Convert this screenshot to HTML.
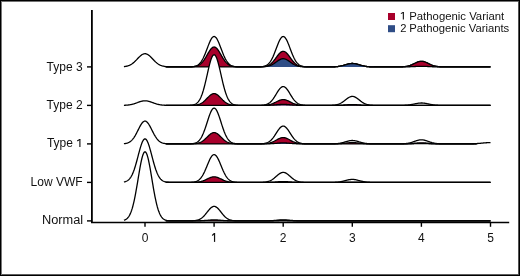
<!DOCTYPE html>
<html><head><meta charset="utf-8"><style>
html,body{margin:0;padding:0;background:#fff;}
body{width:520px;height:276px;overflow:hidden;position:relative;}
.b{position:absolute;}
svg{position:absolute;left:0;top:0;will-change:transform;}
text{font-family:"Liberation Sans",sans-serif;font-size:12px;fill:#111;}
.lg{font-size:11.2px;}
</style></head><body>
<svg width="520" height="276" viewBox="0 0 520 276">
<path d="M123.92 66.90L123.92 66.62L124.41 66.56L124.89 66.50L125.38 66.43L125.86 66.35L126.34 66.25L126.83 66.14L127.31 66.02L127.79 65.88L128.28 65.73L128.76 65.55L129.24 65.36L129.73 65.15L130.21 64.91L130.70 64.65L131.18 64.37L131.66 64.07L132.15 63.74L132.63 63.39L133.11 63.01L133.60 62.62L134.08 62.20L134.56 61.76L135.05 61.30L135.53 60.82L136.01 60.34L136.50 59.84L136.98 59.33L137.47 58.82L137.95 58.32L138.43 57.81L138.92 57.32L139.40 56.84L139.88 56.38L140.37 55.94L140.85 55.53L141.33 55.15L141.82 54.81L142.30 54.51L142.79 54.25L143.27 54.04L143.75 53.88L144.24 53.77L144.72 53.71L145.20 53.70L145.69 53.75L146.17 53.86L146.65 54.01L147.14 54.21L147.62 54.46L148.10 54.76L148.59 55.09L149.07 55.46L149.56 55.87L150.04 56.30L150.52 56.76L151.01 57.24L151.49 57.73L151.97 58.23L152.46 58.74L152.94 59.25L153.42 59.76L153.91 60.26L154.39 60.75L154.88 61.22L155.36 61.69L155.84 62.13L156.33 62.55L156.81 62.95L157.29 63.33L157.78 63.69L158.26 64.02L158.74 64.33L159.23 64.61L159.71 64.87L160.20 65.11L160.68 65.33L161.16 65.52L161.65 65.70L162.13 65.86L162.61 66.00L163.10 66.12L163.58 66.23L164.06 66.33L164.55 66.42L165.03 66.49L165.51 66.55L166.00 66.61L166.48 66.66L166.97 66.70L167.45 66.73L167.93 66.76L168.42 66.79L168.90 66.81L169.38 66.82L169.87 66.84L170.35 66.85L170.83 66.86L171.32 66.87L171.80 66.87L172.29 66.88L172.77 66.88L173.25 66.89L173.74 66.89L174.22 66.89L174.70 66.89L175.19 66.90L175.67 66.90L184.86 66.90L185.34 66.89L185.83 66.89L186.31 66.89L186.79 66.89L187.28 66.88L187.76 66.88L188.24 66.87L188.73 66.86L189.21 66.85L189.70 66.84L190.18 66.82L190.66 66.80L191.15 66.78L191.63 66.75L192.11 66.71L192.60 66.66L193.08 66.60L193.56 66.53L194.05 66.45L194.53 66.35L195.01 66.23L195.50 66.09L195.98 65.92L196.47 65.73L196.95 65.50L197.43 65.24L197.92 64.94L198.40 64.60L198.88 64.21L199.37 63.77L199.85 63.27L200.33 62.72L200.82 62.11L201.30 61.43L201.79 60.69L202.27 59.88L202.75 59.01L203.24 58.07L203.72 57.06L204.20 56.00L204.69 54.88L205.17 53.71L205.65 52.50L206.14 51.25L206.62 49.97L207.11 48.69L207.59 47.40L208.07 46.12L208.56 44.87L209.04 43.65L209.52 42.49L210.01 41.39L210.49 40.38L210.97 39.46L211.46 38.64L211.94 37.95L212.42 37.38L212.91 36.95L213.39 36.66L213.88 36.52L214.36 36.52L214.84 36.68L215.33 36.98L215.81 37.42L216.29 37.99L216.78 38.70L217.26 39.52L217.74 40.45L218.23 41.47L218.71 42.57L219.20 43.74L219.68 44.96L220.16 46.21L220.65 47.49L221.13 48.78L221.61 50.07L222.10 51.34L222.58 52.59L223.06 53.80L223.55 54.96L224.03 56.08L224.52 57.14L225.00 58.14L225.48 59.07L225.97 59.94L226.45 60.74L226.93 61.48L227.42 62.15L227.90 62.76L228.38 63.31L228.87 63.80L229.35 64.24L229.83 64.63L230.32 64.97L230.80 65.26L231.29 65.52L231.77 65.74L232.25 65.94L232.74 66.10L233.22 66.24L233.70 66.36L234.19 66.46L234.67 66.54L235.15 66.61L235.64 66.66L236.12 66.71L236.61 66.75L237.09 66.78L237.57 66.81L238.06 66.83L238.54 66.84L239.02 66.85L239.51 66.86L239.99 66.87L240.47 66.88L240.96 66.88L241.44 66.89L241.93 66.89L242.41 66.89L242.89 66.89L243.38 66.90L253.53 66.90L254.02 66.90L254.50 66.89L254.98 66.89L255.47 66.89L255.95 66.89L256.43 66.88L256.92 66.88L257.40 66.87L257.88 66.86L258.37 66.85L258.85 66.84L259.33 66.82L259.82 66.80L260.30 66.77L260.79 66.74L261.27 66.70L261.75 66.65L262.24 66.60L262.72 66.52L263.20 66.44L263.69 66.34L264.17 66.21L264.65 66.07L265.14 65.90L265.62 65.70L266.11 65.47L266.59 65.21L267.07 64.90L267.56 64.56L268.04 64.16L268.52 63.71L269.01 63.21L269.49 62.65L269.97 62.03L270.46 61.35L270.94 60.60L271.43 59.78L271.91 58.90L272.39 57.95L272.88 56.94L273.36 55.87L273.84 54.75L274.33 53.57L274.81 52.35L275.29 51.10L275.78 49.83L276.26 48.54L276.74 47.25L277.23 45.97L277.71 44.72L278.20 43.51L278.68 42.36L279.16 41.27L279.65 40.27L280.13 39.36L280.61 38.56L281.10 37.88L281.58 37.32L282.06 36.91L282.55 36.63L283.03 36.51L283.52 36.53L284.00 36.70L284.48 37.02L284.97 37.48L285.45 38.07L285.93 38.79L286.42 39.62L286.90 40.56L287.38 41.59L287.87 42.70L288.35 43.88L288.84 45.10L289.32 46.36L289.80 47.64L290.29 48.93L290.77 50.22L291.25 51.49L291.74 52.73L292.22 53.93L292.70 55.09L293.19 56.20L293.67 57.26L294.15 58.25L294.64 59.18L295.12 60.04L295.61 60.83L296.09 61.56L296.57 62.23L297.06 62.83L297.54 63.37L298.02 63.86L298.51 64.29L298.99 64.67L299.47 65.00L299.96 65.29L300.44 65.55L300.93 65.77L301.41 65.96L301.89 66.12L302.38 66.25L302.86 66.37L303.34 66.47L303.83 66.55L304.31 66.61L304.79 66.67L305.28 66.72L305.76 66.75L306.25 66.78L306.73 66.81L307.21 66.83L307.70 66.84L308.18 66.86L308.66 66.87L309.15 66.87L309.63 66.88L310.11 66.88L310.60 66.89L311.08 66.89L311.56 66.89L312.05 66.90L312.53 66.90L326.56 66.90L327.04 66.90L327.52 66.89L328.01 66.89L328.49 66.89L328.97 66.89L329.46 66.89L329.94 66.88L330.43 66.88L330.91 66.87L331.39 66.87L331.88 66.86L332.36 66.85L332.84 66.84L333.33 66.82L333.81 66.81L334.29 66.79L334.78 66.76L335.26 66.74L335.75 66.71L336.23 66.67L336.71 66.63L337.20 66.59L337.68 66.54L338.16 66.48L338.65 66.42L339.13 66.35L339.61 66.27L340.10 66.18L340.58 66.09L341.06 65.99L341.55 65.89L342.03 65.77L342.52 65.65L343.00 65.53L343.48 65.39L343.97 65.26L344.45 65.12L344.93 64.97L345.42 64.83L345.90 64.69L346.38 64.54L346.87 64.40L347.35 64.27L347.84 64.14L348.32 64.02L348.80 63.91L349.29 63.81L349.77 63.72L350.25 63.65L350.74 63.59L351.22 63.54L351.70 63.51L352.19 63.50L352.67 63.50L353.16 63.53L353.64 63.56L354.12 63.62L354.61 63.68L355.09 63.77L355.57 63.86L356.06 63.97L356.54 64.08L357.02 64.21L357.51 64.34L357.99 64.48L358.47 64.62L358.96 64.76L359.44 64.91L359.93 65.05L360.41 65.19L360.89 65.33L361.38 65.47L361.86 65.59L362.34 65.72L362.83 65.83L363.31 65.94L363.79 66.05L364.28 66.14L364.76 66.23L365.25 66.31L365.73 66.39L366.21 66.45L366.70 66.51L367.18 66.57L367.66 66.61L368.15 66.65L368.63 66.69L369.11 66.72L369.60 66.75L370.08 66.78L370.57 66.80L371.05 66.81L371.53 66.83L372.02 66.84L372.50 66.85L372.98 66.86L373.47 66.87L373.95 66.87L374.43 66.88L374.92 66.88L375.40 66.89L375.88 66.89L376.37 66.89L376.85 66.89L377.34 66.90L377.82 66.90L394.75 66.90L395.23 66.90L395.71 66.89L396.20 66.89L396.68 66.89L397.16 66.89L397.65 66.88L398.13 66.88L398.61 66.88L399.10 66.87L399.58 66.86L400.07 66.85L400.55 66.84L401.03 66.83L401.52 66.81L402.00 66.79L402.48 66.77L402.97 66.74L403.45 66.71L403.93 66.67L404.42 66.63L404.90 66.58L405.38 66.52L405.87 66.45L406.35 66.38L406.84 66.29L407.32 66.20L407.80 66.09L408.29 65.98L408.77 65.85L409.25 65.71L409.74 65.55L410.22 65.39L410.70 65.21L411.19 65.02L411.67 64.82L412.16 64.61L412.64 64.39L413.12 64.17L413.61 63.94L414.09 63.70L414.57 63.46L415.06 63.23L415.54 62.99L416.02 62.76L416.51 62.54L416.99 62.33L417.48 62.13L417.96 61.95L418.44 61.79L418.93 61.65L419.41 61.53L419.89 61.43L420.38 61.36L420.86 61.32L421.34 61.30L421.83 61.31L422.31 61.35L422.79 61.41L423.28 61.50L423.76 61.62L424.25 61.76L424.73 61.91L425.21 62.09L425.70 62.28L426.18 62.49L426.66 62.71L427.15 62.94L427.63 63.17L428.11 63.41L428.60 63.64L429.08 63.88L429.57 64.11L430.05 64.34L430.53 64.56L431.02 64.77L431.50 64.98L431.98 65.17L432.47 65.35L432.95 65.52L433.43 65.67L433.92 65.81L434.40 65.95L434.88 66.07L435.37 66.17L435.85 66.27L436.34 66.36L436.82 66.44L437.30 66.50L437.79 66.56L438.27 66.62L438.75 66.66L439.24 66.70L439.72 66.73L440.20 66.76L440.69 66.79L441.17 66.81L441.66 66.82L442.14 66.84L442.62 66.85L443.11 66.86L443.59 66.87L444.07 66.87L444.56 66.88L445.04 66.88L445.52 66.89L446.01 66.89L446.49 66.89L446.98 66.89L447.46 66.90L447.94 66.90L490.50 66.90L490.50 66.90Z" fill="#fff"/>
<path d="M123.92 66.62L124.41 66.56L124.89 66.50L125.38 66.43L125.86 66.35L126.34 66.25L126.83 66.14L127.31 66.02L127.79 65.88L128.28 65.73L128.76 65.55L129.24 65.36L129.73 65.15L130.21 64.91L130.70 64.65L131.18 64.37L131.66 64.07L132.15 63.74L132.63 63.39L133.11 63.01L133.60 62.62L134.08 62.20L134.56 61.76L135.05 61.30L135.53 60.82L136.01 60.34L136.50 59.84L136.98 59.33L137.47 58.82L137.95 58.32L138.43 57.81L138.92 57.32L139.40 56.84L139.88 56.38L140.37 55.94L140.85 55.53L141.33 55.15L141.82 54.81L142.30 54.51L142.79 54.25L143.27 54.04L143.75 53.88L144.24 53.77L144.72 53.71L145.20 53.70L145.69 53.75L146.17 53.86L146.65 54.01L147.14 54.21L147.62 54.46L148.10 54.76L148.59 55.09L149.07 55.46L149.56 55.87L150.04 56.30L150.52 56.76L151.01 57.24L151.49 57.73L151.97 58.23L152.46 58.74L152.94 59.25L153.42 59.76L153.91 60.26L154.39 60.75L154.88 61.22L155.36 61.69L155.84 62.13L156.33 62.55L156.81 62.95L157.29 63.33L157.78 63.69L158.26 64.02L158.74 64.33L159.23 64.61L159.71 64.87L160.20 65.11L160.68 65.33L161.16 65.52L161.65 65.70L162.13 65.86L162.61 66.00L163.10 66.12L163.58 66.23L164.06 66.33L164.55 66.42L165.03 66.49L165.51 66.55L166.00 66.61L166.48 66.66L166.97 66.70L167.45 66.73L167.93 66.76L168.42 66.79L168.90 66.81L169.38 66.82L169.87 66.84L170.35 66.85L170.83 66.86L171.32 66.87L171.80 66.87L172.29 66.88L172.77 66.88L173.25 66.89L173.74 66.89L174.22 66.89L174.70 66.89L175.19 66.90L175.67 66.90L184.86 66.90L185.34 66.89L185.83 66.89L186.31 66.89L186.79 66.89L187.28 66.88L187.76 66.88L188.24 66.87L188.73 66.86L189.21 66.85L189.70 66.84L190.18 66.82L190.66 66.80L191.15 66.78L191.63 66.75L192.11 66.71L192.60 66.66L193.08 66.60L193.56 66.53L194.05 66.45L194.53 66.35L195.01 66.23L195.50 66.09L195.98 65.92L196.47 65.73L196.95 65.50L197.43 65.24L197.92 64.94L198.40 64.60L198.88 64.21L199.37 63.77L199.85 63.27L200.33 62.72L200.82 62.11L201.30 61.43L201.79 60.69L202.27 59.88L202.75 59.01L203.24 58.07L203.72 57.06L204.20 56.00L204.69 54.88L205.17 53.71L205.65 52.50L206.14 51.25L206.62 49.97L207.11 48.69L207.59 47.40L208.07 46.12L208.56 44.87L209.04 43.65L209.52 42.49L210.01 41.39L210.49 40.38L210.97 39.46L211.46 38.64L211.94 37.95L212.42 37.38L212.91 36.95L213.39 36.66L213.88 36.52L214.36 36.52L214.84 36.68L215.33 36.98L215.81 37.42L216.29 37.99L216.78 38.70L217.26 39.52L217.74 40.45L218.23 41.47L218.71 42.57L219.20 43.74L219.68 44.96L220.16 46.21L220.65 47.49L221.13 48.78L221.61 50.07L222.10 51.34L222.58 52.59L223.06 53.80L223.55 54.96L224.03 56.08L224.52 57.14L225.00 58.14L225.48 59.07L225.97 59.94L226.45 60.74L226.93 61.48L227.42 62.15L227.90 62.76L228.38 63.31L228.87 63.80L229.35 64.24L229.83 64.63L230.32 64.97L230.80 65.26L231.29 65.52L231.77 65.74L232.25 65.94L232.74 66.10L233.22 66.24L233.70 66.36L234.19 66.46L234.67 66.54L235.15 66.61L235.64 66.66L236.12 66.71L236.61 66.75L237.09 66.78L237.57 66.81L238.06 66.83L238.54 66.84L239.02 66.85L239.51 66.86L239.99 66.87L240.47 66.88L240.96 66.88L241.44 66.89L241.93 66.89L242.41 66.89L242.89 66.89L243.38 66.90L253.53 66.90L254.02 66.90L254.50 66.89L254.98 66.89L255.47 66.89L255.95 66.89L256.43 66.88L256.92 66.88L257.40 66.87L257.88 66.86L258.37 66.85L258.85 66.84L259.33 66.82L259.82 66.80L260.30 66.77L260.79 66.74L261.27 66.70L261.75 66.65L262.24 66.60L262.72 66.52L263.20 66.44L263.69 66.34L264.17 66.21L264.65 66.07L265.14 65.90L265.62 65.70L266.11 65.47L266.59 65.21L267.07 64.90L267.56 64.56L268.04 64.16L268.52 63.71L269.01 63.21L269.49 62.65L269.97 62.03L270.46 61.35L270.94 60.60L271.43 59.78L271.91 58.90L272.39 57.95L272.88 56.94L273.36 55.87L273.84 54.75L274.33 53.57L274.81 52.35L275.29 51.10L275.78 49.83L276.26 48.54L276.74 47.25L277.23 45.97L277.71 44.72L278.20 43.51L278.68 42.36L279.16 41.27L279.65 40.27L280.13 39.36L280.61 38.56L281.10 37.88L281.58 37.32L282.06 36.91L282.55 36.63L283.03 36.51L283.52 36.53L284.00 36.70L284.48 37.02L284.97 37.48L285.45 38.07L285.93 38.79L286.42 39.62L286.90 40.56L287.38 41.59L287.87 42.70L288.35 43.88L288.84 45.10L289.32 46.36L289.80 47.64L290.29 48.93L290.77 50.22L291.25 51.49L291.74 52.73L292.22 53.93L292.70 55.09L293.19 56.20L293.67 57.26L294.15 58.25L294.64 59.18L295.12 60.04L295.61 60.83L296.09 61.56L296.57 62.23L297.06 62.83L297.54 63.37L298.02 63.86L298.51 64.29L298.99 64.67L299.47 65.00L299.96 65.29L300.44 65.55L300.93 65.77L301.41 65.96L301.89 66.12L302.38 66.25L302.86 66.37L303.34 66.47L303.83 66.55L304.31 66.61L304.79 66.67L305.28 66.72L305.76 66.75L306.25 66.78L306.73 66.81L307.21 66.83L307.70 66.84L308.18 66.86L308.66 66.87L309.15 66.87L309.63 66.88L310.11 66.88L310.60 66.89L311.08 66.89L311.56 66.89L312.05 66.90L312.53 66.90L326.56 66.90L327.04 66.90L327.52 66.89L328.01 66.89L328.49 66.89L328.97 66.89L329.46 66.89L329.94 66.88L330.43 66.88L330.91 66.87L331.39 66.87L331.88 66.86L332.36 66.85L332.84 66.84L333.33 66.82L333.81 66.81L334.29 66.79L334.78 66.76L335.26 66.74L335.75 66.71L336.23 66.67L336.71 66.63L337.20 66.59L337.68 66.54L338.16 66.48L338.65 66.42L339.13 66.35L339.61 66.27L340.10 66.18L340.58 66.09L341.06 65.99L341.55 65.89L342.03 65.77L342.52 65.65L343.00 65.53L343.48 65.39L343.97 65.26L344.45 65.12L344.93 64.97L345.42 64.83L345.90 64.69L346.38 64.54L346.87 64.40L347.35 64.27L347.84 64.14L348.32 64.02L348.80 63.91L349.29 63.81L349.77 63.72L350.25 63.65L350.74 63.59L351.22 63.54L351.70 63.51L352.19 63.50L352.67 63.50L353.16 63.53L353.64 63.56L354.12 63.62L354.61 63.68L355.09 63.77L355.57 63.86L356.06 63.97L356.54 64.08L357.02 64.21L357.51 64.34L357.99 64.48L358.47 64.62L358.96 64.76L359.44 64.91L359.93 65.05L360.41 65.19L360.89 65.33L361.38 65.47L361.86 65.59L362.34 65.72L362.83 65.83L363.31 65.94L363.79 66.05L364.28 66.14L364.76 66.23L365.25 66.31L365.73 66.39L366.21 66.45L366.70 66.51L367.18 66.57L367.66 66.61L368.15 66.65L368.63 66.69L369.11 66.72L369.60 66.75L370.08 66.78L370.57 66.80L371.05 66.81L371.53 66.83L372.02 66.84L372.50 66.85L372.98 66.86L373.47 66.87L373.95 66.87L374.43 66.88L374.92 66.88L375.40 66.89L375.88 66.89L376.37 66.89L376.85 66.89L377.34 66.90L377.82 66.90L394.75 66.90L395.23 66.90L395.71 66.89L396.20 66.89L396.68 66.89L397.16 66.89L397.65 66.88L398.13 66.88L398.61 66.88L399.10 66.87L399.58 66.86L400.07 66.85L400.55 66.84L401.03 66.83L401.52 66.81L402.00 66.79L402.48 66.77L402.97 66.74L403.45 66.71L403.93 66.67L404.42 66.63L404.90 66.58L405.38 66.52L405.87 66.45L406.35 66.38L406.84 66.29L407.32 66.20L407.80 66.09L408.29 65.98L408.77 65.85L409.25 65.71L409.74 65.55L410.22 65.39L410.70 65.21L411.19 65.02L411.67 64.82L412.16 64.61L412.64 64.39L413.12 64.17L413.61 63.94L414.09 63.70L414.57 63.46L415.06 63.23L415.54 62.99L416.02 62.76L416.51 62.54L416.99 62.33L417.48 62.13L417.96 61.95L418.44 61.79L418.93 61.65L419.41 61.53L419.89 61.43L420.38 61.36L420.86 61.32L421.34 61.30L421.83 61.31L422.31 61.35L422.79 61.41L423.28 61.50L423.76 61.62L424.25 61.76L424.73 61.91L425.21 62.09L425.70 62.28L426.18 62.49L426.66 62.71L427.15 62.94L427.63 63.17L428.11 63.41L428.60 63.64L429.08 63.88L429.57 64.11L430.05 64.34L430.53 64.56L431.02 64.77L431.50 64.98L431.98 65.17L432.47 65.35L432.95 65.52L433.43 65.67L433.92 65.81L434.40 65.95L434.88 66.07L435.37 66.17L435.85 66.27L436.34 66.36L436.82 66.44L437.30 66.50L437.79 66.56L438.27 66.62L438.75 66.66L439.24 66.70L439.72 66.73L440.20 66.76L440.69 66.79L441.17 66.81L441.66 66.82L442.14 66.84L442.62 66.85L443.11 66.86L443.59 66.87L444.07 66.87L444.56 66.88L445.04 66.88L445.52 66.89L446.01 66.89L446.49 66.89L446.98 66.89L447.46 66.90L447.94 66.90L490.50 66.90" fill="none" stroke="#000" stroke-width="1.30" stroke-linejoin="round"/>
<path d="M165.73 66.90L165.73 66.90L185.57 66.90L186.06 66.89L186.54 66.89L187.03 66.89L187.51 66.89L187.99 66.88L188.48 66.88L188.96 66.87L189.45 66.87L189.93 66.86L190.41 66.84L190.90 66.83L191.38 66.81L191.87 66.79L192.35 66.76L192.83 66.73L193.32 66.68L193.80 66.63L194.29 66.57L194.77 66.50L195.25 66.42L195.74 66.32L196.22 66.20L196.71 66.06L197.19 65.90L197.67 65.72L198.16 65.51L198.64 65.27L199.13 65.00L199.61 64.69L200.09 64.35L200.58 63.97L201.06 63.54L201.55 63.08L202.03 62.57L202.51 62.02L203.00 61.42L203.48 60.79L203.97 60.11L204.45 59.39L204.93 58.64L205.42 57.86L205.90 57.05L206.39 56.23L206.87 55.39L207.35 54.54L207.84 53.70L208.32 52.87L208.81 52.06L209.29 51.28L209.77 50.54L210.26 49.85L210.74 49.22L211.23 48.65L211.71 48.15L212.19 47.74L212.68 47.42L213.16 47.18L213.65 47.04L214.13 47.00L214.61 47.06L215.10 47.21L215.58 47.45L216.07 47.79L216.55 48.21L217.03 48.72L217.52 49.29L218.00 49.93L218.49 50.63L218.97 51.38L219.45 52.16L219.94 52.97L220.42 53.81L220.91 54.65L221.39 55.49L221.88 56.33L222.36 57.16L222.84 57.96L223.33 58.74L223.81 59.49L224.30 60.20L224.78 60.87L225.26 61.50L225.75 62.09L226.23 62.64L226.72 63.14L227.20 63.60L227.68 64.02L228.17 64.39L228.65 64.73L229.14 65.03L229.62 65.30L230.10 65.54L230.59 65.74L231.07 65.93L231.56 66.08L232.04 66.22L232.52 66.33L233.01 66.43L233.49 66.51L233.98 66.58L234.46 66.64L234.94 66.69L235.43 66.73L235.91 66.76L236.40 66.79L236.88 66.81L237.36 66.83L237.85 66.85L238.33 66.86L238.82 66.87L239.30 66.87L239.78 66.88L240.27 66.88L240.75 66.89L241.24 66.89L241.72 66.89L242.20 66.89L242.69 66.90L254.79 66.90L255.27 66.90L255.76 66.89L256.24 66.89L256.72 66.89L257.21 66.89L257.69 66.88L258.18 66.88L258.66 66.87L259.14 66.86L259.63 66.85L260.11 66.84L260.60 66.83L261.08 66.81L261.56 66.78L262.05 66.76L262.53 66.72L263.02 66.68L263.50 66.63L263.98 66.57L264.47 66.50L264.95 66.42L265.44 66.33L265.92 66.22L266.40 66.09L266.89 65.94L267.37 65.77L267.86 65.57L268.34 65.36L268.82 65.11L269.31 64.83L269.79 64.53L270.28 64.19L270.76 63.81L271.24 63.41L271.73 62.97L272.21 62.49L272.70 61.99L273.18 61.45L273.66 60.88L274.15 60.29L274.63 59.67L275.12 59.03L275.60 58.38L276.08 57.72L276.57 57.06L277.05 56.40L277.54 55.75L278.02 55.12L278.50 54.52L278.99 53.94L279.47 53.41L279.96 52.93L280.44 52.50L280.92 52.12L281.41 51.82L281.89 51.58L282.38 51.41L282.86 51.32L283.34 51.30L283.83 51.36L284.31 51.50L284.80 51.71L285.28 51.99L285.76 52.34L286.25 52.75L286.73 53.21L287.22 53.72L287.70 54.28L288.18 54.87L288.67 55.49L289.15 56.14L289.64 56.79L290.12 57.45L290.60 58.11L291.09 58.77L291.57 59.41L292.06 60.04L292.54 60.64L293.02 61.22L293.51 61.77L293.99 62.29L294.48 62.78L294.96 63.23L295.44 63.65L295.93 64.04L296.41 64.39L296.90 64.71L297.38 65.00L297.86 65.26L298.35 65.49L298.83 65.69L299.32 65.87L299.80 66.03L300.28 66.17L300.77 66.28L301.25 66.39L301.74 66.47L302.22 66.55L302.70 66.61L303.19 66.66L303.67 66.71L304.16 66.74L304.64 66.77L305.12 66.80L305.61 66.82L306.09 66.84L306.58 66.85L307.06 66.86L307.54 66.87L308.03 66.88L308.51 66.88L309.00 66.89L309.48 66.89L309.96 66.89L310.45 66.89L310.93 66.90L311.42 66.90L326.90 66.90L327.39 66.89L327.87 66.89L328.36 66.89L328.84 66.89L329.33 66.89L329.81 66.88L330.29 66.88L330.78 66.87L331.26 66.87L331.75 66.86L332.23 66.85L332.71 66.84L333.20 66.83L333.68 66.81L334.17 66.79L334.65 66.77L335.13 66.74L335.62 66.72L336.10 66.68L336.59 66.64L337.07 66.60L337.55 66.55L338.04 66.50L338.52 66.43L339.01 66.37L339.49 66.29L339.97 66.21L340.46 66.12L340.94 66.02L341.43 65.91L341.91 65.80L342.39 65.68L342.88 65.56L343.36 65.43L343.85 65.29L344.33 65.15L344.81 65.01L345.30 64.87L345.78 64.72L346.27 64.58L346.75 64.44L347.23 64.30L347.72 64.17L348.20 64.05L348.69 63.93L349.17 63.83L349.65 63.74L350.14 63.66L350.62 63.60L351.11 63.55L351.59 63.52L352.07 63.50L352.56 63.50L353.04 63.52L353.53 63.55L354.01 63.60L354.49 63.67L354.98 63.75L355.46 63.84L355.95 63.94L356.43 64.06L356.91 64.18L357.40 64.31L357.88 64.45L358.37 64.59L358.85 64.73L359.33 64.87L359.82 65.02L360.30 65.16L360.79 65.30L361.27 65.44L361.75 65.57L362.24 65.69L362.72 65.81L363.21 65.92L363.69 66.03L364.17 66.12L364.66 66.21L365.14 66.30L365.63 66.37L366.11 66.44L366.59 66.50L367.08 66.55L367.56 66.60L368.05 66.65L368.53 66.68L369.01 66.72L369.50 66.75L369.98 66.77L370.47 66.79L370.95 66.81L371.43 66.83L371.92 66.84L372.40 66.85L372.89 66.86L373.37 66.87L373.85 66.87L374.34 66.88L374.82 66.88L375.31 66.89L375.79 66.89L376.27 66.89L376.76 66.89L377.24 66.89L377.73 66.90L394.67 66.90L395.15 66.90L395.63 66.89L396.12 66.89L396.60 66.89L397.09 66.89L397.57 66.89L398.05 66.88L398.54 66.88L399.02 66.87L399.51 66.86L399.99 66.85L400.47 66.84L400.96 66.83L401.44 66.81L401.93 66.79L402.41 66.77L402.89 66.74L403.38 66.71L403.86 66.68L404.35 66.63L404.83 66.58L405.31 66.53L405.80 66.46L406.28 66.39L406.77 66.31L407.25 66.21L407.73 66.11L408.22 65.99L408.70 65.86L409.19 65.73L409.67 65.57L410.15 65.41L410.64 65.23L411.12 65.05L411.61 64.85L412.09 64.64L412.57 64.42L413.06 64.20L413.54 63.97L414.03 63.73L414.51 63.49L414.99 63.26L415.48 63.02L415.96 62.79L416.45 62.57L416.93 62.36L417.41 62.16L417.90 61.97L418.38 61.81L418.87 61.66L419.35 61.54L419.83 61.44L420.32 61.37L420.80 61.32L421.29 61.30L421.77 61.31L422.25 61.34L422.74 61.40L423.22 61.49L423.71 61.60L424.19 61.74L424.67 61.89L425.16 62.07L425.64 62.26L426.13 62.47L426.61 62.69L427.09 62.91L427.58 63.15L428.06 63.38L428.55 63.62L429.03 63.86L429.51 64.09L430.00 64.32L430.48 64.54L430.97 64.75L431.45 64.96L431.93 65.15L432.42 65.33L432.90 65.50L433.39 65.66L433.87 65.80L434.35 65.93L434.84 66.06L435.32 66.16L435.81 66.26L436.29 66.35L436.78 66.43L437.26 66.50L437.74 66.56L438.23 66.61L438.71 66.66L439.20 66.70L439.68 66.73L440.16 66.76L440.65 66.78L441.13 66.81L441.62 66.82L442.10 66.84L442.58 66.85L443.07 66.86L443.55 66.87L444.04 66.87L444.52 66.88L445.00 66.88L445.49 66.89L445.97 66.89L446.46 66.89L446.94 66.89L447.42 66.90L447.91 66.90L490.50 66.90L490.50 66.90Z" fill="#A8002B"/>
<path d="M165.73 66.90L185.57 66.90L186.06 66.89L186.54 66.89L187.03 66.89L187.51 66.89L187.99 66.88L188.48 66.88L188.96 66.87L189.45 66.87L189.93 66.86L190.41 66.84L190.90 66.83L191.38 66.81L191.87 66.79L192.35 66.76L192.83 66.73L193.32 66.68L193.80 66.63L194.29 66.57L194.77 66.50L195.25 66.42L195.74 66.32L196.22 66.20L196.71 66.06L197.19 65.90L197.67 65.72L198.16 65.51L198.64 65.27L199.13 65.00L199.61 64.69L200.09 64.35L200.58 63.97L201.06 63.54L201.55 63.08L202.03 62.57L202.51 62.02L203.00 61.42L203.48 60.79L203.97 60.11L204.45 59.39L204.93 58.64L205.42 57.86L205.90 57.05L206.39 56.23L206.87 55.39L207.35 54.54L207.84 53.70L208.32 52.87L208.81 52.06L209.29 51.28L209.77 50.54L210.26 49.85L210.74 49.22L211.23 48.65L211.71 48.15L212.19 47.74L212.68 47.42L213.16 47.18L213.65 47.04L214.13 47.00L214.61 47.06L215.10 47.21L215.58 47.45L216.07 47.79L216.55 48.21L217.03 48.72L217.52 49.29L218.00 49.93L218.49 50.63L218.97 51.38L219.45 52.16L219.94 52.97L220.42 53.81L220.91 54.65L221.39 55.49L221.88 56.33L222.36 57.16L222.84 57.96L223.33 58.74L223.81 59.49L224.30 60.20L224.78 60.87L225.26 61.50L225.75 62.09L226.23 62.64L226.72 63.14L227.20 63.60L227.68 64.02L228.17 64.39L228.65 64.73L229.14 65.03L229.62 65.30L230.10 65.54L230.59 65.74L231.07 65.93L231.56 66.08L232.04 66.22L232.52 66.33L233.01 66.43L233.49 66.51L233.98 66.58L234.46 66.64L234.94 66.69L235.43 66.73L235.91 66.76L236.40 66.79L236.88 66.81L237.36 66.83L237.85 66.85L238.33 66.86L238.82 66.87L239.30 66.87L239.78 66.88L240.27 66.88L240.75 66.89L241.24 66.89L241.72 66.89L242.20 66.89L242.69 66.90L254.79 66.90L255.27 66.90L255.76 66.89L256.24 66.89L256.72 66.89L257.21 66.89L257.69 66.88L258.18 66.88L258.66 66.87L259.14 66.86L259.63 66.85L260.11 66.84L260.60 66.83L261.08 66.81L261.56 66.78L262.05 66.76L262.53 66.72L263.02 66.68L263.50 66.63L263.98 66.57L264.47 66.50L264.95 66.42L265.44 66.33L265.92 66.22L266.40 66.09L266.89 65.94L267.37 65.77L267.86 65.57L268.34 65.36L268.82 65.11L269.31 64.83L269.79 64.53L270.28 64.19L270.76 63.81L271.24 63.41L271.73 62.97L272.21 62.49L272.70 61.99L273.18 61.45L273.66 60.88L274.15 60.29L274.63 59.67L275.12 59.03L275.60 58.38L276.08 57.72L276.57 57.06L277.05 56.40L277.54 55.75L278.02 55.12L278.50 54.52L278.99 53.94L279.47 53.41L279.96 52.93L280.44 52.50L280.92 52.12L281.41 51.82L281.89 51.58L282.38 51.41L282.86 51.32L283.34 51.30L283.83 51.36L284.31 51.50L284.80 51.71L285.28 51.99L285.76 52.34L286.25 52.75L286.73 53.21L287.22 53.72L287.70 54.28L288.18 54.87L288.67 55.49L289.15 56.14L289.64 56.79L290.12 57.45L290.60 58.11L291.09 58.77L291.57 59.41L292.06 60.04L292.54 60.64L293.02 61.22L293.51 61.77L293.99 62.29L294.48 62.78L294.96 63.23L295.44 63.65L295.93 64.04L296.41 64.39L296.90 64.71L297.38 65.00L297.86 65.26L298.35 65.49L298.83 65.69L299.32 65.87L299.80 66.03L300.28 66.17L300.77 66.28L301.25 66.39L301.74 66.47L302.22 66.55L302.70 66.61L303.19 66.66L303.67 66.71L304.16 66.74L304.64 66.77L305.12 66.80L305.61 66.82L306.09 66.84L306.58 66.85L307.06 66.86L307.54 66.87L308.03 66.88L308.51 66.88L309.00 66.89L309.48 66.89L309.96 66.89L310.45 66.89L310.93 66.90L311.42 66.90L326.90 66.90L327.39 66.89L327.87 66.89L328.36 66.89L328.84 66.89L329.33 66.89L329.81 66.88L330.29 66.88L330.78 66.87L331.26 66.87L331.75 66.86L332.23 66.85L332.71 66.84L333.20 66.83L333.68 66.81L334.17 66.79L334.65 66.77L335.13 66.74L335.62 66.72L336.10 66.68L336.59 66.64L337.07 66.60L337.55 66.55L338.04 66.50L338.52 66.43L339.01 66.37L339.49 66.29L339.97 66.21L340.46 66.12L340.94 66.02L341.43 65.91L341.91 65.80L342.39 65.68L342.88 65.56L343.36 65.43L343.85 65.29L344.33 65.15L344.81 65.01L345.30 64.87L345.78 64.72L346.27 64.58L346.75 64.44L347.23 64.30L347.72 64.17L348.20 64.05L348.69 63.93L349.17 63.83L349.65 63.74L350.14 63.66L350.62 63.60L351.11 63.55L351.59 63.52L352.07 63.50L352.56 63.50L353.04 63.52L353.53 63.55L354.01 63.60L354.49 63.67L354.98 63.75L355.46 63.84L355.95 63.94L356.43 64.06L356.91 64.18L357.40 64.31L357.88 64.45L358.37 64.59L358.85 64.73L359.33 64.87L359.82 65.02L360.30 65.16L360.79 65.30L361.27 65.44L361.75 65.57L362.24 65.69L362.72 65.81L363.21 65.92L363.69 66.03L364.17 66.12L364.66 66.21L365.14 66.30L365.63 66.37L366.11 66.44L366.59 66.50L367.08 66.55L367.56 66.60L368.05 66.65L368.53 66.68L369.01 66.72L369.50 66.75L369.98 66.77L370.47 66.79L370.95 66.81L371.43 66.83L371.92 66.84L372.40 66.85L372.89 66.86L373.37 66.87L373.85 66.87L374.34 66.88L374.82 66.88L375.31 66.89L375.79 66.89L376.27 66.89L376.76 66.89L377.24 66.89L377.73 66.90L394.67 66.90L395.15 66.90L395.63 66.89L396.12 66.89L396.60 66.89L397.09 66.89L397.57 66.89L398.05 66.88L398.54 66.88L399.02 66.87L399.51 66.86L399.99 66.85L400.47 66.84L400.96 66.83L401.44 66.81L401.93 66.79L402.41 66.77L402.89 66.74L403.38 66.71L403.86 66.68L404.35 66.63L404.83 66.58L405.31 66.53L405.80 66.46L406.28 66.39L406.77 66.31L407.25 66.21L407.73 66.11L408.22 65.99L408.70 65.86L409.19 65.73L409.67 65.57L410.15 65.41L410.64 65.23L411.12 65.05L411.61 64.85L412.09 64.64L412.57 64.42L413.06 64.20L413.54 63.97L414.03 63.73L414.51 63.49L414.99 63.26L415.48 63.02L415.96 62.79L416.45 62.57L416.93 62.36L417.41 62.16L417.90 61.97L418.38 61.81L418.87 61.66L419.35 61.54L419.83 61.44L420.32 61.37L420.80 61.32L421.29 61.30L421.77 61.31L422.25 61.34L422.74 61.40L423.22 61.49L423.71 61.60L424.19 61.74L424.67 61.89L425.16 62.07L425.64 62.26L426.13 62.47L426.61 62.69L427.09 62.91L427.58 63.15L428.06 63.38L428.55 63.62L429.03 63.86L429.51 64.09L430.00 64.32L430.48 64.54L430.97 64.75L431.45 64.96L431.93 65.15L432.42 65.33L432.90 65.50L433.39 65.66L433.87 65.80L434.35 65.93L434.84 66.06L435.32 66.16L435.81 66.26L436.29 66.35L436.78 66.43L437.26 66.50L437.74 66.56L438.23 66.61L438.71 66.66L439.20 66.70L439.68 66.73L440.16 66.76L440.65 66.78L441.13 66.81L441.62 66.82L442.10 66.84L442.58 66.85L443.07 66.86L443.55 66.87L444.04 66.87L444.52 66.88L445.00 66.88L445.49 66.89L445.97 66.89L446.46 66.89L446.94 66.89L447.42 66.90L447.91 66.90L490.50 66.90" fill="none" stroke="#000" stroke-width="1.30" stroke-linejoin="round"/>
<path d="M165.73 66.90L165.73 66.90L255.76 66.90L256.24 66.90L256.72 66.89L257.21 66.89L257.69 66.89L258.18 66.89L258.66 66.89L259.14 66.88L259.63 66.88L260.11 66.87L260.60 66.86L261.08 66.85L261.56 66.84L262.05 66.82L262.53 66.81L263.02 66.78L263.50 66.76L263.98 66.73L264.47 66.69L264.95 66.65L265.44 66.60L265.92 66.54L266.40 66.47L266.89 66.39L267.37 66.31L267.86 66.20L268.34 66.09L268.82 65.96L269.31 65.81L269.79 65.65L270.28 65.47L270.76 65.28L271.24 65.06L271.73 64.83L272.21 64.58L272.70 64.32L273.18 64.03L273.66 63.74L274.15 63.42L274.63 63.10L275.12 62.76L275.60 62.42L276.08 62.07L276.57 61.73L277.05 61.38L277.54 61.04L278.02 60.71L278.50 60.39L278.99 60.09L279.47 59.81L279.96 59.56L280.44 59.33L280.92 59.13L281.41 58.97L281.89 58.85L282.38 58.76L282.86 58.71L283.34 58.70L283.83 58.73L284.31 58.81L284.80 58.92L285.28 59.06L285.76 59.25L286.25 59.46L286.73 59.70L287.22 59.97L287.70 60.27L288.18 60.58L288.67 60.90L289.15 61.24L289.64 61.59L290.12 61.93L290.60 62.28L291.09 62.63L291.57 62.96L292.06 63.29L292.54 63.61L293.02 63.92L293.51 64.21L293.99 64.48L294.48 64.73L294.96 64.97L295.44 65.19L295.93 65.40L296.41 65.58L296.90 65.75L297.38 65.90L297.86 66.04L298.35 66.16L298.83 66.27L299.32 66.36L299.80 66.44L300.28 66.51L300.77 66.58L301.25 66.63L301.74 66.68L302.22 66.71L302.70 66.75L303.19 66.78L303.67 66.80L304.16 66.82L304.64 66.83L305.12 66.85L305.61 66.86L306.09 66.87L306.58 66.87L307.06 66.88L307.54 66.88L308.03 66.89L308.51 66.89L309.00 66.89L309.48 66.89L309.96 66.90L310.45 66.90L326.90 66.90L327.39 66.89L327.87 66.89L328.36 66.89L328.84 66.89L329.33 66.89L329.81 66.88L330.29 66.88L330.78 66.87L331.26 66.87L331.75 66.86L332.23 66.85L332.71 66.84L333.20 66.83L333.68 66.81L334.17 66.79L334.65 66.77L335.13 66.74L335.62 66.72L336.10 66.68L336.59 66.64L337.07 66.60L337.55 66.55L338.04 66.50L338.52 66.43L339.01 66.37L339.49 66.29L339.97 66.21L340.46 66.12L340.94 66.02L341.43 65.91L341.91 65.80L342.39 65.68L342.88 65.56L343.36 65.43L343.85 65.29L344.33 65.15L344.81 65.01L345.30 64.87L345.78 64.72L346.27 64.58L346.75 64.44L347.23 64.30L347.72 64.17L348.20 64.05L348.69 63.93L349.17 63.83L349.65 63.74L350.14 63.66L350.62 63.60L351.11 63.55L351.59 63.52L352.07 63.50L352.56 63.50L353.04 63.52L353.53 63.55L354.01 63.60L354.49 63.67L354.98 63.75L355.46 63.84L355.95 63.94L356.43 64.06L356.91 64.18L357.40 64.31L357.88 64.45L358.37 64.59L358.85 64.73L359.33 64.87L359.82 65.02L360.30 65.16L360.79 65.30L361.27 65.44L361.75 65.57L362.24 65.69L362.72 65.81L363.21 65.92L363.69 66.03L364.17 66.12L364.66 66.21L365.14 66.30L365.63 66.37L366.11 66.44L366.59 66.50L367.08 66.55L367.56 66.60L368.05 66.65L368.53 66.68L369.01 66.72L369.50 66.75L369.98 66.77L370.47 66.79L370.95 66.81L371.43 66.83L371.92 66.84L372.40 66.85L372.89 66.86L373.37 66.87L373.85 66.87L374.34 66.88L374.82 66.88L375.31 66.89L375.79 66.89L376.27 66.89L376.76 66.89L377.24 66.89L377.73 66.90L399.51 66.90L399.99 66.90L400.47 66.89L400.96 66.89L401.44 66.89L401.93 66.89L402.41 66.89L402.89 66.88L403.38 66.88L403.86 66.88L404.35 66.87L404.83 66.87L405.31 66.86L405.80 66.85L406.28 66.85L406.77 66.84L407.25 66.83L407.73 66.82L408.22 66.80L408.70 66.79L409.19 66.77L409.67 66.76L410.15 66.74L410.64 66.72L411.12 66.70L411.61 66.68L412.09 66.66L412.57 66.63L413.06 66.61L413.54 66.59L414.03 66.56L414.51 66.53L414.99 66.51L415.48 66.48L415.96 66.46L416.45 66.44L416.93 66.41L417.41 66.39L417.90 66.37L418.38 66.35L418.87 66.34L419.35 66.33L419.83 66.32L420.32 66.31L420.80 66.30L421.29 66.30L421.77 66.30L422.25 66.30L422.74 66.31L423.22 66.32L423.71 66.33L424.19 66.35L424.67 66.36L425.16 66.38L425.64 66.40L426.13 66.43L426.61 66.45L427.09 66.47L427.58 66.50L428.06 66.52L428.55 66.55L429.03 66.57L429.51 66.60L430.00 66.62L430.48 66.65L430.97 66.67L431.45 66.69L431.93 66.71L432.42 66.73L432.90 66.75L433.39 66.77L433.87 66.78L434.35 66.80L434.84 66.81L435.32 66.82L435.81 66.83L436.29 66.84L436.78 66.85L437.26 66.86L437.74 66.86L438.23 66.87L438.71 66.87L439.20 66.88L439.68 66.88L440.16 66.88L440.65 66.89L441.13 66.89L441.62 66.89L442.10 66.89L442.58 66.89L443.07 66.90L443.55 66.90L490.50 66.90L490.50 66.90Z" fill="#2F4D86"/>
<path d="M165.73 66.90L255.76 66.90L256.24 66.90L256.72 66.89L257.21 66.89L257.69 66.89L258.18 66.89L258.66 66.89L259.14 66.88L259.63 66.88L260.11 66.87L260.60 66.86L261.08 66.85L261.56 66.84L262.05 66.82L262.53 66.81L263.02 66.78L263.50 66.76L263.98 66.73L264.47 66.69L264.95 66.65L265.44 66.60L265.92 66.54L266.40 66.47L266.89 66.39L267.37 66.31L267.86 66.20L268.34 66.09L268.82 65.96L269.31 65.81L269.79 65.65L270.28 65.47L270.76 65.28L271.24 65.06L271.73 64.83L272.21 64.58L272.70 64.32L273.18 64.03L273.66 63.74L274.15 63.42L274.63 63.10L275.12 62.76L275.60 62.42L276.08 62.07L276.57 61.73L277.05 61.38L277.54 61.04L278.02 60.71L278.50 60.39L278.99 60.09L279.47 59.81L279.96 59.56L280.44 59.33L280.92 59.13L281.41 58.97L281.89 58.85L282.38 58.76L282.86 58.71L283.34 58.70L283.83 58.73L284.31 58.81L284.80 58.92L285.28 59.06L285.76 59.25L286.25 59.46L286.73 59.70L287.22 59.97L287.70 60.27L288.18 60.58L288.67 60.90L289.15 61.24L289.64 61.59L290.12 61.93L290.60 62.28L291.09 62.63L291.57 62.96L292.06 63.29L292.54 63.61L293.02 63.92L293.51 64.21L293.99 64.48L294.48 64.73L294.96 64.97L295.44 65.19L295.93 65.40L296.41 65.58L296.90 65.75L297.38 65.90L297.86 66.04L298.35 66.16L298.83 66.27L299.32 66.36L299.80 66.44L300.28 66.51L300.77 66.58L301.25 66.63L301.74 66.68L302.22 66.71L302.70 66.75L303.19 66.78L303.67 66.80L304.16 66.82L304.64 66.83L305.12 66.85L305.61 66.86L306.09 66.87L306.58 66.87L307.06 66.88L307.54 66.88L308.03 66.89L308.51 66.89L309.00 66.89L309.48 66.89L309.96 66.90L310.45 66.90L326.90 66.90L327.39 66.89L327.87 66.89L328.36 66.89L328.84 66.89L329.33 66.89L329.81 66.88L330.29 66.88L330.78 66.87L331.26 66.87L331.75 66.86L332.23 66.85L332.71 66.84L333.20 66.83L333.68 66.81L334.17 66.79L334.65 66.77L335.13 66.74L335.62 66.72L336.10 66.68L336.59 66.64L337.07 66.60L337.55 66.55L338.04 66.50L338.52 66.43L339.01 66.37L339.49 66.29L339.97 66.21L340.46 66.12L340.94 66.02L341.43 65.91L341.91 65.80L342.39 65.68L342.88 65.56L343.36 65.43L343.85 65.29L344.33 65.15L344.81 65.01L345.30 64.87L345.78 64.72L346.27 64.58L346.75 64.44L347.23 64.30L347.72 64.17L348.20 64.05L348.69 63.93L349.17 63.83L349.65 63.74L350.14 63.66L350.62 63.60L351.11 63.55L351.59 63.52L352.07 63.50L352.56 63.50L353.04 63.52L353.53 63.55L354.01 63.60L354.49 63.67L354.98 63.75L355.46 63.84L355.95 63.94L356.43 64.06L356.91 64.18L357.40 64.31L357.88 64.45L358.37 64.59L358.85 64.73L359.33 64.87L359.82 65.02L360.30 65.16L360.79 65.30L361.27 65.44L361.75 65.57L362.24 65.69L362.72 65.81L363.21 65.92L363.69 66.03L364.17 66.12L364.66 66.21L365.14 66.30L365.63 66.37L366.11 66.44L366.59 66.50L367.08 66.55L367.56 66.60L368.05 66.65L368.53 66.68L369.01 66.72L369.50 66.75L369.98 66.77L370.47 66.79L370.95 66.81L371.43 66.83L371.92 66.84L372.40 66.85L372.89 66.86L373.37 66.87L373.85 66.87L374.34 66.88L374.82 66.88L375.31 66.89L375.79 66.89L376.27 66.89L376.76 66.89L377.24 66.89L377.73 66.90L399.51 66.90L399.99 66.90L400.47 66.89L400.96 66.89L401.44 66.89L401.93 66.89L402.41 66.89L402.89 66.88L403.38 66.88L403.86 66.88L404.35 66.87L404.83 66.87L405.31 66.86L405.80 66.85L406.28 66.85L406.77 66.84L407.25 66.83L407.73 66.82L408.22 66.80L408.70 66.79L409.19 66.77L409.67 66.76L410.15 66.74L410.64 66.72L411.12 66.70L411.61 66.68L412.09 66.66L412.57 66.63L413.06 66.61L413.54 66.59L414.03 66.56L414.51 66.53L414.99 66.51L415.48 66.48L415.96 66.46L416.45 66.44L416.93 66.41L417.41 66.39L417.90 66.37L418.38 66.35L418.87 66.34L419.35 66.33L419.83 66.32L420.32 66.31L420.80 66.30L421.29 66.30L421.77 66.30L422.25 66.30L422.74 66.31L423.22 66.32L423.71 66.33L424.19 66.35L424.67 66.36L425.16 66.38L425.64 66.40L426.13 66.43L426.61 66.45L427.09 66.47L427.58 66.50L428.06 66.52L428.55 66.55L429.03 66.57L429.51 66.60L430.00 66.62L430.48 66.65L430.97 66.67L431.45 66.69L431.93 66.71L432.42 66.73L432.90 66.75L433.39 66.77L433.87 66.78L434.35 66.80L434.84 66.81L435.32 66.82L435.81 66.83L436.29 66.84L436.78 66.85L437.26 66.86L437.74 66.86L438.23 66.87L438.71 66.87L439.20 66.88L439.68 66.88L440.16 66.88L440.65 66.89L441.13 66.89L441.62 66.89L442.10 66.89L442.58 66.89L443.07 66.90L443.55 66.90L490.50 66.90" fill="none" stroke="#000" stroke-width="1.30" stroke-linejoin="round"/>
<path d="M123.92 105.40L123.92 105.30L124.41 105.28L124.89 105.26L125.38 105.24L125.86 105.21L126.34 105.17L126.83 105.14L127.31 105.09L127.79 105.05L128.28 104.99L128.76 104.93L129.24 104.86L129.73 104.79L130.21 104.71L130.70 104.62L131.18 104.52L131.66 104.41L132.15 104.30L132.63 104.18L133.11 104.05L133.60 103.91L134.08 103.76L134.56 103.61L135.05 103.45L135.53 103.28L136.01 103.11L136.50 102.94L136.98 102.76L137.47 102.59L137.95 102.41L138.43 102.23L138.92 102.06L139.40 101.89L139.88 101.73L140.37 101.58L140.85 101.44L141.33 101.30L141.82 101.19L142.30 101.08L142.79 100.99L143.27 100.92L143.75 100.86L144.24 100.82L144.72 100.80L145.20 100.80L145.69 100.82L146.17 100.85L146.65 100.91L147.14 100.98L147.62 101.07L148.10 101.17L148.59 101.29L149.07 101.41L149.56 101.56L150.04 101.71L150.52 101.87L151.01 102.03L151.49 102.21L151.97 102.38L152.46 102.56L152.94 102.73L153.42 102.91L153.91 103.09L154.39 103.26L154.88 103.42L155.36 103.58L155.84 103.74L156.33 103.88L156.81 104.02L157.29 104.16L157.78 104.28L158.26 104.40L158.74 104.50L159.23 104.60L159.71 104.69L160.20 104.78L160.68 104.85L161.16 104.92L161.65 104.98L162.13 105.04L162.61 105.09L163.10 105.13L163.58 105.17L164.06 105.20L164.55 105.23L165.03 105.26L165.51 105.28L166.00 105.30L166.48 105.32L166.97 105.33L167.45 105.34L167.93 105.35L168.42 105.36L168.90 105.37L169.38 105.37L169.87 105.38L170.35 105.38L170.83 105.39L171.32 105.39L171.80 105.39L172.29 105.39L172.77 105.39L173.25 105.40L173.74 105.40L183.89 105.40L184.38 105.40L184.86 105.39L185.34 105.39L185.83 105.39L186.31 105.38L186.79 105.38L187.28 105.37L187.76 105.36L188.24 105.35L188.73 105.34L189.21 105.32L189.70 105.30L190.18 105.27L190.66 105.24L191.15 105.20L191.63 105.14L192.11 105.08L192.60 105.00L193.08 104.90L193.56 104.79L194.05 104.65L194.53 104.48L195.01 104.28L195.50 104.05L195.98 103.77L196.47 103.45L196.95 103.07L197.43 102.63L197.92 102.13L198.40 101.56L198.88 100.91L199.37 100.18L199.85 99.35L200.33 98.43L200.82 97.41L201.30 96.28L201.79 95.04L202.27 93.69L202.75 92.23L203.24 90.67L203.72 88.99L204.20 87.22L204.69 85.35L205.17 83.40L205.65 81.38L206.14 79.30L206.62 77.17L207.11 75.03L207.59 72.88L208.07 70.74L208.56 68.65L209.04 66.62L209.52 64.69L210.01 62.86L210.49 61.17L210.97 59.63L211.46 58.27L211.94 57.11L212.42 56.17L212.91 55.45L213.39 54.97L213.88 54.73L214.36 54.74L214.84 54.99L215.33 55.49L215.81 56.23L216.29 57.19L216.78 58.37L217.26 59.74L217.74 61.28L218.23 62.99L218.71 64.82L219.20 66.77L219.68 68.80L220.16 70.90L220.65 73.03L221.13 75.18L221.61 77.33L222.10 79.45L222.58 81.53L223.06 83.54L223.55 85.49L224.03 87.35L224.52 89.12L225.00 90.78L225.48 92.34L225.97 93.79L226.45 95.13L226.93 96.36L227.42 97.48L227.90 98.50L228.38 99.41L228.87 100.23L229.35 100.96L229.83 101.61L230.32 102.17L230.80 102.67L231.29 103.10L231.77 103.47L232.25 103.79L232.74 104.06L233.22 104.30L233.70 104.49L234.19 104.66L234.67 104.80L235.15 104.91L235.64 105.01L236.12 105.08L236.61 105.15L237.09 105.20L237.57 105.24L238.06 105.28L238.54 105.30L239.02 105.32L239.51 105.34L239.99 105.35L240.47 105.37L240.96 105.37L241.44 105.38L241.93 105.38L242.41 105.39L242.89 105.39L243.38 105.39L243.86 105.40L244.34 105.40L254.50 105.40L254.98 105.40L255.47 105.39L255.95 105.39L256.43 105.39L256.92 105.39L257.40 105.38L257.88 105.38L258.37 105.37L258.85 105.36L259.33 105.35L259.82 105.34L260.30 105.32L260.79 105.30L261.27 105.28L261.75 105.25L262.24 105.21L262.72 105.17L263.20 105.11L263.69 105.05L264.17 104.98L264.65 104.89L265.14 104.78L265.62 104.66L266.11 104.52L266.59 104.35L267.07 104.17L267.56 103.95L268.04 103.71L268.52 103.43L269.01 103.12L269.49 102.77L269.97 102.39L270.46 101.97L270.94 101.50L271.43 101.00L271.91 100.45L272.39 99.87L272.88 99.24L273.36 98.58L273.84 97.88L274.33 97.16L274.81 96.40L275.29 95.63L275.78 94.84L276.26 94.04L276.74 93.25L277.23 92.46L277.71 91.69L278.20 90.94L278.68 90.22L279.16 89.55L279.65 88.93L280.13 88.37L280.61 87.87L281.10 87.45L281.58 87.11L282.06 86.85L282.55 86.68L283.03 86.61L283.52 86.62L284.00 86.73L284.48 86.92L284.97 87.20L285.45 87.57L285.93 88.01L286.42 88.53L286.90 89.11L287.38 89.75L287.87 90.44L288.35 91.16L288.84 91.92L289.32 92.70L289.80 93.49L290.29 94.29L290.77 95.08L291.25 95.87L291.74 96.64L292.22 97.38L292.70 98.10L293.19 98.79L293.67 99.44L294.15 100.05L294.64 100.62L295.12 101.16L295.61 101.65L296.09 102.10L296.57 102.51L297.06 102.88L297.54 103.22L298.02 103.52L298.51 103.78L298.99 104.02L299.47 104.23L299.96 104.41L300.44 104.56L300.93 104.70L301.41 104.82L301.89 104.92L302.38 105.00L302.86 105.07L303.34 105.13L303.83 105.18L304.31 105.22L304.79 105.26L305.28 105.29L305.76 105.31L306.25 105.33L306.73 105.34L307.21 105.36L307.70 105.36L308.18 105.37L308.66 105.38L309.15 105.38L309.63 105.39L310.11 105.39L310.60 105.39L311.08 105.39L311.56 105.40L312.05 105.40L325.11 105.40L325.59 105.39L326.07 105.39L326.56 105.39L327.04 105.39L327.52 105.39L328.01 105.38L328.49 105.38L328.97 105.37L329.46 105.36L329.94 105.35L330.43 105.34L330.91 105.33L331.39 105.31L331.88 105.29L332.36 105.26L332.84 105.23L333.33 105.19L333.81 105.15L334.29 105.10L334.78 105.04L335.26 104.97L335.75 104.89L336.23 104.80L336.71 104.69L337.20 104.57L337.68 104.44L338.16 104.29L338.65 104.12L339.13 103.94L339.61 103.73L340.10 103.51L340.58 103.26L341.06 103.00L341.55 102.72L342.03 102.42L342.52 102.10L343.00 101.76L343.48 101.41L343.97 101.05L344.45 100.68L344.93 100.30L345.42 99.92L345.90 99.54L346.38 99.16L346.87 98.79L347.35 98.44L347.84 98.10L348.32 97.78L348.80 97.48L349.29 97.22L349.77 96.98L350.25 96.79L350.74 96.63L351.22 96.51L351.70 96.43L352.19 96.40L352.67 96.41L353.16 96.47L353.64 96.57L354.12 96.71L354.61 96.89L355.09 97.10L355.57 97.36L356.06 97.64L356.54 97.94L357.02 98.28L357.51 98.62L357.99 98.99L358.47 99.36L358.96 99.74L359.44 100.12L359.93 100.50L360.41 100.88L360.89 101.25L361.38 101.60L361.86 101.94L362.34 102.27L362.83 102.58L363.31 102.87L363.79 103.14L364.28 103.40L364.76 103.63L365.25 103.84L365.73 104.04L366.21 104.21L366.70 104.37L367.18 104.51L367.66 104.64L368.15 104.75L368.63 104.85L369.11 104.93L369.60 105.01L370.08 105.07L370.57 105.13L371.05 105.17L371.53 105.21L372.02 105.25L372.50 105.27L372.98 105.30L373.47 105.32L373.95 105.33L374.43 105.35L374.92 105.36L375.40 105.37L375.88 105.37L376.37 105.38L376.85 105.38L377.34 105.39L377.82 105.39L378.30 105.39L378.79 105.39L379.27 105.40L379.75 105.40L396.68 105.40L397.16 105.39L397.65 105.39L398.13 105.39L398.61 105.39L399.10 105.39L399.58 105.38L400.07 105.38L400.55 105.37L401.03 105.37L401.52 105.36L402.00 105.35L402.48 105.34L402.97 105.33L403.45 105.32L403.93 105.30L404.42 105.28L404.90 105.26L405.38 105.24L405.87 105.21L406.35 105.18L406.84 105.14L407.32 105.10L407.80 105.05L408.29 105.00L408.77 104.95L409.25 104.89L409.74 104.82L410.22 104.75L410.70 104.68L411.19 104.59L411.67 104.51L412.16 104.42L412.64 104.33L413.12 104.23L413.61 104.13L414.09 104.03L414.57 103.93L415.06 103.83L415.54 103.72L416.02 103.63L416.51 103.53L416.99 103.44L417.48 103.36L417.96 103.28L418.44 103.21L418.93 103.15L419.41 103.10L419.89 103.06L420.38 103.03L420.86 103.01L421.34 103.00L421.83 103.00L422.31 103.02L422.79 103.05L423.28 103.09L423.76 103.14L424.25 103.20L424.73 103.26L425.21 103.34L425.70 103.42L426.18 103.51L426.66 103.60L427.15 103.70L427.63 103.80L428.11 103.90L428.60 104.00L429.08 104.11L429.57 104.21L430.05 104.30L430.53 104.40L431.02 104.49L431.50 104.58L431.98 104.66L432.47 104.73L432.95 104.81L433.43 104.87L433.92 104.93L434.40 104.99L434.88 105.04L435.37 105.09L435.85 105.13L436.34 105.17L436.82 105.20L437.30 105.23L437.79 105.26L438.27 105.28L438.75 105.30L439.24 105.31L439.72 105.33L440.20 105.34L440.69 105.35L441.17 105.36L441.66 105.37L442.14 105.37L442.62 105.38L443.11 105.38L443.59 105.39L444.07 105.39L444.56 105.39L445.04 105.39L445.52 105.39L446.01 105.40L446.49 105.40L490.50 105.40L490.50 105.40Z" fill="#fff"/>
<path d="M123.92 105.30L124.41 105.28L124.89 105.26L125.38 105.24L125.86 105.21L126.34 105.17L126.83 105.14L127.31 105.09L127.79 105.05L128.28 104.99L128.76 104.93L129.24 104.86L129.73 104.79L130.21 104.71L130.70 104.62L131.18 104.52L131.66 104.41L132.15 104.30L132.63 104.18L133.11 104.05L133.60 103.91L134.08 103.76L134.56 103.61L135.05 103.45L135.53 103.28L136.01 103.11L136.50 102.94L136.98 102.76L137.47 102.59L137.95 102.41L138.43 102.23L138.92 102.06L139.40 101.89L139.88 101.73L140.37 101.58L140.85 101.44L141.33 101.30L141.82 101.19L142.30 101.08L142.79 100.99L143.27 100.92L143.75 100.86L144.24 100.82L144.72 100.80L145.20 100.80L145.69 100.82L146.17 100.85L146.65 100.91L147.14 100.98L147.62 101.07L148.10 101.17L148.59 101.29L149.07 101.41L149.56 101.56L150.04 101.71L150.52 101.87L151.01 102.03L151.49 102.21L151.97 102.38L152.46 102.56L152.94 102.73L153.42 102.91L153.91 103.09L154.39 103.26L154.88 103.42L155.36 103.58L155.84 103.74L156.33 103.88L156.81 104.02L157.29 104.16L157.78 104.28L158.26 104.40L158.74 104.50L159.23 104.60L159.71 104.69L160.20 104.78L160.68 104.85L161.16 104.92L161.65 104.98L162.13 105.04L162.61 105.09L163.10 105.13L163.58 105.17L164.06 105.20L164.55 105.23L165.03 105.26L165.51 105.28L166.00 105.30L166.48 105.32L166.97 105.33L167.45 105.34L167.93 105.35L168.42 105.36L168.90 105.37L169.38 105.37L169.87 105.38L170.35 105.38L170.83 105.39L171.32 105.39L171.80 105.39L172.29 105.39L172.77 105.39L173.25 105.40L173.74 105.40L183.89 105.40L184.38 105.40L184.86 105.39L185.34 105.39L185.83 105.39L186.31 105.38L186.79 105.38L187.28 105.37L187.76 105.36L188.24 105.35L188.73 105.34L189.21 105.32L189.70 105.30L190.18 105.27L190.66 105.24L191.15 105.20L191.63 105.14L192.11 105.08L192.60 105.00L193.08 104.90L193.56 104.79L194.05 104.65L194.53 104.48L195.01 104.28L195.50 104.05L195.98 103.77L196.47 103.45L196.95 103.07L197.43 102.63L197.92 102.13L198.40 101.56L198.88 100.91L199.37 100.18L199.85 99.35L200.33 98.43L200.82 97.41L201.30 96.28L201.79 95.04L202.27 93.69L202.75 92.23L203.24 90.67L203.72 88.99L204.20 87.22L204.69 85.35L205.17 83.40L205.65 81.38L206.14 79.30L206.62 77.17L207.11 75.03L207.59 72.88L208.07 70.74L208.56 68.65L209.04 66.62L209.52 64.69L210.01 62.86L210.49 61.17L210.97 59.63L211.46 58.27L211.94 57.11L212.42 56.17L212.91 55.45L213.39 54.97L213.88 54.73L214.36 54.74L214.84 54.99L215.33 55.49L215.81 56.23L216.29 57.19L216.78 58.37L217.26 59.74L217.74 61.28L218.23 62.99L218.71 64.82L219.20 66.77L219.68 68.80L220.16 70.90L220.65 73.03L221.13 75.18L221.61 77.33L222.10 79.45L222.58 81.53L223.06 83.54L223.55 85.49L224.03 87.35L224.52 89.12L225.00 90.78L225.48 92.34L225.97 93.79L226.45 95.13L226.93 96.36L227.42 97.48L227.90 98.50L228.38 99.41L228.87 100.23L229.35 100.96L229.83 101.61L230.32 102.17L230.80 102.67L231.29 103.10L231.77 103.47L232.25 103.79L232.74 104.06L233.22 104.30L233.70 104.49L234.19 104.66L234.67 104.80L235.15 104.91L235.64 105.01L236.12 105.08L236.61 105.15L237.09 105.20L237.57 105.24L238.06 105.28L238.54 105.30L239.02 105.32L239.51 105.34L239.99 105.35L240.47 105.37L240.96 105.37L241.44 105.38L241.93 105.38L242.41 105.39L242.89 105.39L243.38 105.39L243.86 105.40L244.34 105.40L254.50 105.40L254.98 105.40L255.47 105.39L255.95 105.39L256.43 105.39L256.92 105.39L257.40 105.38L257.88 105.38L258.37 105.37L258.85 105.36L259.33 105.35L259.82 105.34L260.30 105.32L260.79 105.30L261.27 105.28L261.75 105.25L262.24 105.21L262.72 105.17L263.20 105.11L263.69 105.05L264.17 104.98L264.65 104.89L265.14 104.78L265.62 104.66L266.11 104.52L266.59 104.35L267.07 104.17L267.56 103.95L268.04 103.71L268.52 103.43L269.01 103.12L269.49 102.77L269.97 102.39L270.46 101.97L270.94 101.50L271.43 101.00L271.91 100.45L272.39 99.87L272.88 99.24L273.36 98.58L273.84 97.88L274.33 97.16L274.81 96.40L275.29 95.63L275.78 94.84L276.26 94.04L276.74 93.25L277.23 92.46L277.71 91.69L278.20 90.94L278.68 90.22L279.16 89.55L279.65 88.93L280.13 88.37L280.61 87.87L281.10 87.45L281.58 87.11L282.06 86.85L282.55 86.68L283.03 86.61L283.52 86.62L284.00 86.73L284.48 86.92L284.97 87.20L285.45 87.57L285.93 88.01L286.42 88.53L286.90 89.11L287.38 89.75L287.87 90.44L288.35 91.16L288.84 91.92L289.32 92.70L289.80 93.49L290.29 94.29L290.77 95.08L291.25 95.87L291.74 96.64L292.22 97.38L292.70 98.10L293.19 98.79L293.67 99.44L294.15 100.05L294.64 100.62L295.12 101.16L295.61 101.65L296.09 102.10L296.57 102.51L297.06 102.88L297.54 103.22L298.02 103.52L298.51 103.78L298.99 104.02L299.47 104.23L299.96 104.41L300.44 104.56L300.93 104.70L301.41 104.82L301.89 104.92L302.38 105.00L302.86 105.07L303.34 105.13L303.83 105.18L304.31 105.22L304.79 105.26L305.28 105.29L305.76 105.31L306.25 105.33L306.73 105.34L307.21 105.36L307.70 105.36L308.18 105.37L308.66 105.38L309.15 105.38L309.63 105.39L310.11 105.39L310.60 105.39L311.08 105.39L311.56 105.40L312.05 105.40L325.11 105.40L325.59 105.39L326.07 105.39L326.56 105.39L327.04 105.39L327.52 105.39L328.01 105.38L328.49 105.38L328.97 105.37L329.46 105.36L329.94 105.35L330.43 105.34L330.91 105.33L331.39 105.31L331.88 105.29L332.36 105.26L332.84 105.23L333.33 105.19L333.81 105.15L334.29 105.10L334.78 105.04L335.26 104.97L335.75 104.89L336.23 104.80L336.71 104.69L337.20 104.57L337.68 104.44L338.16 104.29L338.65 104.12L339.13 103.94L339.61 103.73L340.10 103.51L340.58 103.26L341.06 103.00L341.55 102.72L342.03 102.42L342.52 102.10L343.00 101.76L343.48 101.41L343.97 101.05L344.45 100.68L344.93 100.30L345.42 99.92L345.90 99.54L346.38 99.16L346.87 98.79L347.35 98.44L347.84 98.10L348.32 97.78L348.80 97.48L349.29 97.22L349.77 96.98L350.25 96.79L350.74 96.63L351.22 96.51L351.70 96.43L352.19 96.40L352.67 96.41L353.16 96.47L353.64 96.57L354.12 96.71L354.61 96.89L355.09 97.10L355.57 97.36L356.06 97.64L356.54 97.94L357.02 98.28L357.51 98.62L357.99 98.99L358.47 99.36L358.96 99.74L359.44 100.12L359.93 100.50L360.41 100.88L360.89 101.25L361.38 101.60L361.86 101.94L362.34 102.27L362.83 102.58L363.31 102.87L363.79 103.14L364.28 103.40L364.76 103.63L365.25 103.84L365.73 104.04L366.21 104.21L366.70 104.37L367.18 104.51L367.66 104.64L368.15 104.75L368.63 104.85L369.11 104.93L369.60 105.01L370.08 105.07L370.57 105.13L371.05 105.17L371.53 105.21L372.02 105.25L372.50 105.27L372.98 105.30L373.47 105.32L373.95 105.33L374.43 105.35L374.92 105.36L375.40 105.37L375.88 105.37L376.37 105.38L376.85 105.38L377.34 105.39L377.82 105.39L378.30 105.39L378.79 105.39L379.27 105.40L379.75 105.40L396.68 105.40L397.16 105.39L397.65 105.39L398.13 105.39L398.61 105.39L399.10 105.39L399.58 105.38L400.07 105.38L400.55 105.37L401.03 105.37L401.52 105.36L402.00 105.35L402.48 105.34L402.97 105.33L403.45 105.32L403.93 105.30L404.42 105.28L404.90 105.26L405.38 105.24L405.87 105.21L406.35 105.18L406.84 105.14L407.32 105.10L407.80 105.05L408.29 105.00L408.77 104.95L409.25 104.89L409.74 104.82L410.22 104.75L410.70 104.68L411.19 104.59L411.67 104.51L412.16 104.42L412.64 104.33L413.12 104.23L413.61 104.13L414.09 104.03L414.57 103.93L415.06 103.83L415.54 103.72L416.02 103.63L416.51 103.53L416.99 103.44L417.48 103.36L417.96 103.28L418.44 103.21L418.93 103.15L419.41 103.10L419.89 103.06L420.38 103.03L420.86 103.01L421.34 103.00L421.83 103.00L422.31 103.02L422.79 103.05L423.28 103.09L423.76 103.14L424.25 103.20L424.73 103.26L425.21 103.34L425.70 103.42L426.18 103.51L426.66 103.60L427.15 103.70L427.63 103.80L428.11 103.90L428.60 104.00L429.08 104.11L429.57 104.21L430.05 104.30L430.53 104.40L431.02 104.49L431.50 104.58L431.98 104.66L432.47 104.73L432.95 104.81L433.43 104.87L433.92 104.93L434.40 104.99L434.88 105.04L435.37 105.09L435.85 105.13L436.34 105.17L436.82 105.20L437.30 105.23L437.79 105.26L438.27 105.28L438.75 105.30L439.24 105.31L439.72 105.33L440.20 105.34L440.69 105.35L441.17 105.36L441.66 105.37L442.14 105.37L442.62 105.38L443.11 105.38L443.59 105.39L444.07 105.39L444.56 105.39L445.04 105.39L445.52 105.39L446.01 105.40L446.49 105.40L490.50 105.40" fill="none" stroke="#000" stroke-width="1.30" stroke-linejoin="round"/>
<path d="M165.73 105.40L165.73 105.40L186.06 105.40L186.54 105.40L187.03 105.39L187.51 105.39L187.99 105.39L188.48 105.39L188.96 105.38L189.45 105.38L189.93 105.37L190.41 105.37L190.90 105.36L191.38 105.35L191.87 105.33L192.35 105.32L192.83 105.30L193.32 105.27L193.80 105.24L194.29 105.21L194.77 105.16L195.25 105.11L195.74 105.05L196.22 104.98L196.71 104.90L197.19 104.81L197.67 104.70L198.16 104.58L198.64 104.43L199.13 104.27L199.61 104.09L200.09 103.89L200.58 103.66L201.06 103.41L201.55 103.13L202.03 102.83L202.51 102.51L203.00 102.15L203.48 101.78L203.97 101.37L204.45 100.95L204.93 100.50L205.42 100.04L205.90 99.56L206.39 99.07L206.87 98.57L207.35 98.07L207.84 97.57L208.32 97.08L208.81 96.60L209.29 96.14L209.77 95.70L210.26 95.29L210.74 94.91L211.23 94.58L211.71 94.28L212.19 94.04L212.68 93.85L213.16 93.71L213.65 93.63L214.13 93.60L214.61 93.63L215.10 93.72L215.58 93.87L216.07 94.07L216.55 94.32L217.03 94.62L217.52 94.96L218.00 95.34L218.49 95.75L218.97 96.20L219.45 96.66L219.94 97.14L220.42 97.64L220.91 98.14L221.39 98.64L221.88 99.13L222.36 99.62L222.84 100.10L223.33 100.56L223.81 101.00L224.30 101.43L224.78 101.83L225.26 102.20L225.75 102.55L226.23 102.87L226.72 103.17L227.20 103.44L227.68 103.69L228.17 103.91L228.65 104.11L229.14 104.29L229.62 104.45L230.10 104.59L230.59 104.72L231.07 104.82L231.56 104.91L232.04 104.99L232.52 105.06L233.01 105.12L233.49 105.17L233.98 105.21L234.46 105.25L234.94 105.28L235.43 105.30L235.91 105.32L236.40 105.34L236.88 105.35L237.36 105.36L237.85 105.37L238.33 105.37L238.82 105.38L239.30 105.38L239.78 105.39L240.27 105.39L240.75 105.39L241.24 105.39L241.72 105.40L242.20 105.40L256.72 105.40L257.21 105.40L257.69 105.39L258.18 105.39L258.66 105.39L259.14 105.39L259.63 105.38L260.11 105.38L260.60 105.37L261.08 105.37L261.56 105.36L262.05 105.35L262.53 105.33L263.02 105.32L263.50 105.30L263.98 105.28L264.47 105.25L264.95 105.22L265.44 105.19L265.92 105.15L266.40 105.10L266.89 105.04L267.37 104.98L267.86 104.91L268.34 104.83L268.82 104.73L269.31 104.63L269.79 104.52L270.28 104.39L270.76 104.25L271.24 104.10L271.73 103.94L272.21 103.76L272.70 103.57L273.18 103.37L273.66 103.16L274.15 102.94L274.63 102.71L275.12 102.47L275.60 102.23L276.08 101.99L276.57 101.74L277.05 101.50L277.54 101.25L278.02 101.02L278.50 100.80L278.99 100.58L279.47 100.39L279.96 100.21L280.44 100.04L280.92 99.91L281.41 99.79L281.89 99.70L282.38 99.64L282.86 99.61L283.34 99.60L283.83 99.62L284.31 99.67L284.80 99.75L285.28 99.86L285.76 99.99L286.25 100.14L286.73 100.31L287.22 100.50L287.70 100.71L288.18 100.93L288.67 101.16L289.15 101.40L289.64 101.64L290.12 101.89L290.60 102.13L291.09 102.38L291.57 102.62L292.06 102.85L292.54 103.07L293.02 103.29L293.51 103.49L293.99 103.69L294.48 103.87L294.96 104.04L295.44 104.19L295.93 104.34L296.41 104.47L296.90 104.59L297.38 104.69L297.86 104.79L298.35 104.88L298.83 104.95L299.32 105.02L299.80 105.08L300.28 105.13L300.77 105.17L301.25 105.21L301.74 105.24L302.22 105.27L302.70 105.29L303.19 105.31L303.67 105.33L304.16 105.34L304.64 105.35L305.12 105.36L305.61 105.37L306.09 105.38L306.58 105.38L307.06 105.39L307.54 105.39L308.03 105.39L308.51 105.39L309.00 105.39L309.48 105.40L309.96 105.40L329.33 105.40L329.81 105.40L330.29 105.39L330.78 105.39L331.26 105.39L331.75 105.39L332.23 105.39L332.71 105.39L333.20 105.38L333.68 105.38L334.17 105.37L334.65 105.37L335.13 105.36L335.62 105.36L336.10 105.35L336.59 105.34L337.07 105.33L337.55 105.32L338.04 105.30L338.52 105.29L339.01 105.27L339.49 105.26L339.97 105.24L340.46 105.22L340.94 105.19L341.43 105.17L341.91 105.14L342.39 105.11L342.88 105.08L343.36 105.05L343.85 105.02L344.33 104.99L344.81 104.96L345.30 104.92L345.78 104.89L346.27 104.85L346.75 104.82L347.23 104.79L347.72 104.76L348.20 104.73L348.69 104.70L349.17 104.68L349.65 104.66L350.14 104.64L350.62 104.62L351.11 104.61L351.59 104.60L352.07 104.60L352.56 104.60L353.04 104.60L353.53 104.61L354.01 104.62L354.49 104.64L354.98 104.66L355.46 104.68L355.95 104.70L356.43 104.73L356.91 104.76L357.40 104.79L357.88 104.82L358.37 104.86L358.85 104.89L359.33 104.92L359.82 104.96L360.30 104.99L360.79 105.02L361.27 105.06L361.75 105.09L362.24 105.12L362.72 105.14L363.21 105.17L363.69 105.19L364.17 105.22L364.66 105.24L365.14 105.26L365.63 105.28L366.11 105.29L366.59 105.31L367.08 105.32L367.56 105.33L368.05 105.34L368.53 105.35L369.01 105.36L369.50 105.36L369.98 105.37L370.47 105.37L370.95 105.38L371.43 105.38L371.92 105.39L372.40 105.39L372.89 105.39L373.37 105.39L373.85 105.39L374.34 105.40L374.82 105.40L405.80 105.40L406.28 105.40L406.77 105.39L407.25 105.39L407.73 105.39L408.22 105.39L408.70 105.39L409.19 105.39L409.67 105.39L410.15 105.39L410.64 105.39L411.12 105.38L411.61 105.38L412.09 105.38L412.57 105.38L413.06 105.38L413.54 105.37L414.03 105.37L414.51 105.37L414.99 105.37L415.48 105.37L415.96 105.36L416.45 105.36L416.93 105.36L417.41 105.36L417.90 105.36L418.38 105.35L418.87 105.35L419.35 105.35L419.83 105.35L420.32 105.35L420.80 105.35L421.29 105.35L421.77 105.35L422.25 105.35L422.74 105.35L423.22 105.35L423.71 105.35L424.19 105.35L424.67 105.36L425.16 105.36L425.64 105.36L426.13 105.36L426.61 105.36L427.09 105.36L427.58 105.37L428.06 105.37L428.55 105.37L429.03 105.37L429.51 105.37L430.00 105.38L430.48 105.38L430.97 105.38L431.45 105.38L431.93 105.38L432.42 105.39L432.90 105.39L433.39 105.39L433.87 105.39L434.35 105.39L434.84 105.39L435.32 105.39L435.81 105.39L436.29 105.40L436.78 105.40L437.26 105.40L490.50 105.40L490.50 105.40Z" fill="#A8002B"/>
<path d="M165.73 105.40L186.06 105.40L186.54 105.40L187.03 105.39L187.51 105.39L187.99 105.39L188.48 105.39L188.96 105.38L189.45 105.38L189.93 105.37L190.41 105.37L190.90 105.36L191.38 105.35L191.87 105.33L192.35 105.32L192.83 105.30L193.32 105.27L193.80 105.24L194.29 105.21L194.77 105.16L195.25 105.11L195.74 105.05L196.22 104.98L196.71 104.90L197.19 104.81L197.67 104.70L198.16 104.58L198.64 104.43L199.13 104.27L199.61 104.09L200.09 103.89L200.58 103.66L201.06 103.41L201.55 103.13L202.03 102.83L202.51 102.51L203.00 102.15L203.48 101.78L203.97 101.37L204.45 100.95L204.93 100.50L205.42 100.04L205.90 99.56L206.39 99.07L206.87 98.57L207.35 98.07L207.84 97.57L208.32 97.08L208.81 96.60L209.29 96.14L209.77 95.70L210.26 95.29L210.74 94.91L211.23 94.58L211.71 94.28L212.19 94.04L212.68 93.85L213.16 93.71L213.65 93.63L214.13 93.60L214.61 93.63L215.10 93.72L215.58 93.87L216.07 94.07L216.55 94.32L217.03 94.62L217.52 94.96L218.00 95.34L218.49 95.75L218.97 96.20L219.45 96.66L219.94 97.14L220.42 97.64L220.91 98.14L221.39 98.64L221.88 99.13L222.36 99.62L222.84 100.10L223.33 100.56L223.81 101.00L224.30 101.43L224.78 101.83L225.26 102.20L225.75 102.55L226.23 102.87L226.72 103.17L227.20 103.44L227.68 103.69L228.17 103.91L228.65 104.11L229.14 104.29L229.62 104.45L230.10 104.59L230.59 104.72L231.07 104.82L231.56 104.91L232.04 104.99L232.52 105.06L233.01 105.12L233.49 105.17L233.98 105.21L234.46 105.25L234.94 105.28L235.43 105.30L235.91 105.32L236.40 105.34L236.88 105.35L237.36 105.36L237.85 105.37L238.33 105.37L238.82 105.38L239.30 105.38L239.78 105.39L240.27 105.39L240.75 105.39L241.24 105.39L241.72 105.40L242.20 105.40L256.72 105.40L257.21 105.40L257.69 105.39L258.18 105.39L258.66 105.39L259.14 105.39L259.63 105.38L260.11 105.38L260.60 105.37L261.08 105.37L261.56 105.36L262.05 105.35L262.53 105.33L263.02 105.32L263.50 105.30L263.98 105.28L264.47 105.25L264.95 105.22L265.44 105.19L265.92 105.15L266.40 105.10L266.89 105.04L267.37 104.98L267.86 104.91L268.34 104.83L268.82 104.73L269.31 104.63L269.79 104.52L270.28 104.39L270.76 104.25L271.24 104.10L271.73 103.94L272.21 103.76L272.70 103.57L273.18 103.37L273.66 103.16L274.15 102.94L274.63 102.71L275.12 102.47L275.60 102.23L276.08 101.99L276.57 101.74L277.05 101.50L277.54 101.25L278.02 101.02L278.50 100.80L278.99 100.58L279.47 100.39L279.96 100.21L280.44 100.04L280.92 99.91L281.41 99.79L281.89 99.70L282.38 99.64L282.86 99.61L283.34 99.60L283.83 99.62L284.31 99.67L284.80 99.75L285.28 99.86L285.76 99.99L286.25 100.14L286.73 100.31L287.22 100.50L287.70 100.71L288.18 100.93L288.67 101.16L289.15 101.40L289.64 101.64L290.12 101.89L290.60 102.13L291.09 102.38L291.57 102.62L292.06 102.85L292.54 103.07L293.02 103.29L293.51 103.49L293.99 103.69L294.48 103.87L294.96 104.04L295.44 104.19L295.93 104.34L296.41 104.47L296.90 104.59L297.38 104.69L297.86 104.79L298.35 104.88L298.83 104.95L299.32 105.02L299.80 105.08L300.28 105.13L300.77 105.17L301.25 105.21L301.74 105.24L302.22 105.27L302.70 105.29L303.19 105.31L303.67 105.33L304.16 105.34L304.64 105.35L305.12 105.36L305.61 105.37L306.09 105.38L306.58 105.38L307.06 105.39L307.54 105.39L308.03 105.39L308.51 105.39L309.00 105.39L309.48 105.40L309.96 105.40L329.33 105.40L329.81 105.40L330.29 105.39L330.78 105.39L331.26 105.39L331.75 105.39L332.23 105.39L332.71 105.39L333.20 105.38L333.68 105.38L334.17 105.37L334.65 105.37L335.13 105.36L335.62 105.36L336.10 105.35L336.59 105.34L337.07 105.33L337.55 105.32L338.04 105.30L338.52 105.29L339.01 105.27L339.49 105.26L339.97 105.24L340.46 105.22L340.94 105.19L341.43 105.17L341.91 105.14L342.39 105.11L342.88 105.08L343.36 105.05L343.85 105.02L344.33 104.99L344.81 104.96L345.30 104.92L345.78 104.89L346.27 104.85L346.75 104.82L347.23 104.79L347.72 104.76L348.20 104.73L348.69 104.70L349.17 104.68L349.65 104.66L350.14 104.64L350.62 104.62L351.11 104.61L351.59 104.60L352.07 104.60L352.56 104.60L353.04 104.60L353.53 104.61L354.01 104.62L354.49 104.64L354.98 104.66L355.46 104.68L355.95 104.70L356.43 104.73L356.91 104.76L357.40 104.79L357.88 104.82L358.37 104.86L358.85 104.89L359.33 104.92L359.82 104.96L360.30 104.99L360.79 105.02L361.27 105.06L361.75 105.09L362.24 105.12L362.72 105.14L363.21 105.17L363.69 105.19L364.17 105.22L364.66 105.24L365.14 105.26L365.63 105.28L366.11 105.29L366.59 105.31L367.08 105.32L367.56 105.33L368.05 105.34L368.53 105.35L369.01 105.36L369.50 105.36L369.98 105.37L370.47 105.37L370.95 105.38L371.43 105.38L371.92 105.39L372.40 105.39L372.89 105.39L373.37 105.39L373.85 105.39L374.34 105.40L374.82 105.40L405.80 105.40L406.28 105.40L406.77 105.39L407.25 105.39L407.73 105.39L408.22 105.39L408.70 105.39L409.19 105.39L409.67 105.39L410.15 105.39L410.64 105.39L411.12 105.38L411.61 105.38L412.09 105.38L412.57 105.38L413.06 105.38L413.54 105.37L414.03 105.37L414.51 105.37L414.99 105.37L415.48 105.37L415.96 105.36L416.45 105.36L416.93 105.36L417.41 105.36L417.90 105.36L418.38 105.35L418.87 105.35L419.35 105.35L419.83 105.35L420.32 105.35L420.80 105.35L421.29 105.35L421.77 105.35L422.25 105.35L422.74 105.35L423.22 105.35L423.71 105.35L424.19 105.35L424.67 105.36L425.16 105.36L425.64 105.36L426.13 105.36L426.61 105.36L427.09 105.36L427.58 105.37L428.06 105.37L428.55 105.37L429.03 105.37L429.51 105.37L430.00 105.38L430.48 105.38L430.97 105.38L431.45 105.38L431.93 105.38L432.42 105.39L432.90 105.39L433.39 105.39L433.87 105.39L434.35 105.39L434.84 105.39L435.32 105.39L435.81 105.39L436.29 105.40L436.78 105.40L437.26 105.40L490.50 105.40" fill="none" stroke="#000" stroke-width="1.30" stroke-linejoin="round"/>
<path d="M165.73 105.40L165.73 105.40L260.11 105.40L260.60 105.40L261.08 105.39L261.56 105.39L262.05 105.39L262.53 105.39L263.02 105.39L263.50 105.38L263.98 105.38L264.47 105.37L264.95 105.37L265.44 105.36L265.92 105.36L266.40 105.35L266.89 105.34L267.37 105.33L267.86 105.32L268.34 105.30L268.82 105.29L269.31 105.27L269.79 105.25L270.28 105.23L270.76 105.20L271.24 105.18L271.73 105.15L272.21 105.12L272.70 105.09L273.18 105.05L273.66 105.01L274.15 104.98L274.63 104.94L275.12 104.90L275.60 104.85L276.08 104.81L276.57 104.77L277.05 104.73L277.54 104.69L278.02 104.64L278.50 104.61L278.99 104.57L279.47 104.54L279.96 104.50L280.44 104.48L280.92 104.45L281.41 104.43L281.89 104.42L282.38 104.41L282.86 104.40L283.34 104.40L283.83 104.40L284.31 104.41L284.80 104.43L285.28 104.44L285.76 104.47L286.25 104.49L286.73 104.52L287.22 104.56L287.70 104.59L288.18 104.63L288.67 104.67L289.15 104.71L289.64 104.75L290.12 104.79L290.60 104.84L291.09 104.88L291.57 104.92L292.06 104.96L292.54 105.00L293.02 105.04L293.51 105.07L293.99 105.10L294.48 105.14L294.96 105.17L295.44 105.19L295.93 105.22L296.41 105.24L296.90 105.26L297.38 105.28L297.86 105.29L298.35 105.31L298.83 105.32L299.32 105.33L299.80 105.34L300.28 105.35L300.77 105.36L301.25 105.37L301.74 105.37L302.22 105.38L302.70 105.38L303.19 105.38L303.67 105.39L304.16 105.39L304.64 105.39L305.12 105.39L305.61 105.39L306.09 105.40L306.58 105.40L331.75 105.40L332.23 105.40L332.71 105.39L333.20 105.39L333.68 105.39L334.17 105.39L334.65 105.39L335.13 105.39L335.62 105.38L336.10 105.38L336.59 105.38L337.07 105.37L337.55 105.37L338.04 105.36L338.52 105.36L339.01 105.35L339.49 105.35L339.97 105.34L340.46 105.33L340.94 105.32L341.43 105.31L341.91 105.30L342.39 105.29L342.88 105.28L343.36 105.27L343.85 105.26L344.33 105.25L344.81 105.23L345.30 105.22L345.78 105.21L346.27 105.20L346.75 105.18L347.23 105.17L347.72 105.16L348.20 105.15L348.69 105.14L349.17 105.13L349.65 105.12L350.14 105.11L350.62 105.11L351.11 105.10L351.59 105.10L352.07 105.10L352.56 105.10L353.04 105.10L353.53 105.10L354.01 105.11L354.49 105.11L354.98 105.12L355.46 105.13L355.95 105.14L356.43 105.15L356.91 105.16L357.40 105.17L357.88 105.18L358.37 105.20L358.85 105.21L359.33 105.22L359.82 105.23L360.30 105.25L360.79 105.26L361.27 105.27L361.75 105.28L362.24 105.29L362.72 105.30L363.21 105.31L363.69 105.32L364.17 105.33L364.66 105.34L365.14 105.35L365.63 105.35L366.11 105.36L366.59 105.36L367.08 105.37L367.56 105.37L368.05 105.38L368.53 105.38L369.01 105.38L369.50 105.39L369.98 105.39L370.47 105.39L370.95 105.39L371.43 105.39L371.92 105.39L372.40 105.40L372.89 105.40L490.50 105.40L490.50 105.40Z" fill="#2F4D86"/>
<path d="M165.73 105.40L260.11 105.40L260.60 105.40L261.08 105.39L261.56 105.39L262.05 105.39L262.53 105.39L263.02 105.39L263.50 105.38L263.98 105.38L264.47 105.37L264.95 105.37L265.44 105.36L265.92 105.36L266.40 105.35L266.89 105.34L267.37 105.33L267.86 105.32L268.34 105.30L268.82 105.29L269.31 105.27L269.79 105.25L270.28 105.23L270.76 105.20L271.24 105.18L271.73 105.15L272.21 105.12L272.70 105.09L273.18 105.05L273.66 105.01L274.15 104.98L274.63 104.94L275.12 104.90L275.60 104.85L276.08 104.81L276.57 104.77L277.05 104.73L277.54 104.69L278.02 104.64L278.50 104.61L278.99 104.57L279.47 104.54L279.96 104.50L280.44 104.48L280.92 104.45L281.41 104.43L281.89 104.42L282.38 104.41L282.86 104.40L283.34 104.40L283.83 104.40L284.31 104.41L284.80 104.43L285.28 104.44L285.76 104.47L286.25 104.49L286.73 104.52L287.22 104.56L287.70 104.59L288.18 104.63L288.67 104.67L289.15 104.71L289.64 104.75L290.12 104.79L290.60 104.84L291.09 104.88L291.57 104.92L292.06 104.96L292.54 105.00L293.02 105.04L293.51 105.07L293.99 105.10L294.48 105.14L294.96 105.17L295.44 105.19L295.93 105.22L296.41 105.24L296.90 105.26L297.38 105.28L297.86 105.29L298.35 105.31L298.83 105.32L299.32 105.33L299.80 105.34L300.28 105.35L300.77 105.36L301.25 105.37L301.74 105.37L302.22 105.38L302.70 105.38L303.19 105.38L303.67 105.39L304.16 105.39L304.64 105.39L305.12 105.39L305.61 105.39L306.09 105.40L306.58 105.40L331.75 105.40L332.23 105.40L332.71 105.39L333.20 105.39L333.68 105.39L334.17 105.39L334.65 105.39L335.13 105.39L335.62 105.38L336.10 105.38L336.59 105.38L337.07 105.37L337.55 105.37L338.04 105.36L338.52 105.36L339.01 105.35L339.49 105.35L339.97 105.34L340.46 105.33L340.94 105.32L341.43 105.31L341.91 105.30L342.39 105.29L342.88 105.28L343.36 105.27L343.85 105.26L344.33 105.25L344.81 105.23L345.30 105.22L345.78 105.21L346.27 105.20L346.75 105.18L347.23 105.17L347.72 105.16L348.20 105.15L348.69 105.14L349.17 105.13L349.65 105.12L350.14 105.11L350.62 105.11L351.11 105.10L351.59 105.10L352.07 105.10L352.56 105.10L353.04 105.10L353.53 105.10L354.01 105.11L354.49 105.11L354.98 105.12L355.46 105.13L355.95 105.14L356.43 105.15L356.91 105.16L357.40 105.17L357.88 105.18L358.37 105.20L358.85 105.21L359.33 105.22L359.82 105.23L360.30 105.25L360.79 105.26L361.27 105.27L361.75 105.28L362.24 105.29L362.72 105.30L363.21 105.31L363.69 105.32L364.17 105.33L364.66 105.34L365.14 105.35L365.63 105.35L366.11 105.36L366.59 105.36L367.08 105.37L367.56 105.37L368.05 105.38L368.53 105.38L369.01 105.38L369.50 105.39L369.98 105.39L370.47 105.39L370.95 105.39L371.43 105.39L371.92 105.39L372.40 105.40L372.89 105.40L490.50 105.40" fill="none" stroke="#000" stroke-width="1.30" stroke-linejoin="round"/>
<path d="M123.92 143.90L123.92 143.68L124.41 143.63L124.89 143.57L125.38 143.50L125.86 143.41L126.34 143.30L126.83 143.18L127.31 143.04L127.79 142.87L128.28 142.68L128.76 142.46L129.24 142.21L129.73 141.92L130.21 141.59L130.70 141.23L131.18 140.82L131.66 140.36L132.15 139.86L132.63 139.31L133.11 138.71L133.60 138.06L134.08 137.36L134.56 136.61L135.05 135.82L135.53 134.98L136.01 134.11L136.50 133.20L136.98 132.27L137.47 131.32L137.95 130.35L138.43 129.39L138.92 128.43L139.40 127.48L139.88 126.57L140.37 125.69L140.85 124.86L141.33 124.09L141.82 123.39L142.30 122.77L142.79 122.24L143.27 121.80L143.75 121.47L144.24 121.24L144.72 121.12L145.20 121.11L145.69 121.21L146.17 121.42L146.65 121.74L147.14 122.17L147.62 122.68L148.10 123.29L148.59 123.98L149.07 124.73L149.56 125.55L150.04 126.42L150.52 127.33L151.01 128.27L151.49 129.23L151.97 130.20L152.46 131.16L152.94 132.12L153.42 133.06L153.91 133.97L154.39 134.85L154.88 135.69L155.36 136.49L155.84 137.24L156.33 137.95L156.81 138.61L157.29 139.22L157.78 139.77L158.26 140.28L158.74 140.75L159.23 141.16L159.71 141.54L160.20 141.87L160.68 142.16L161.16 142.42L161.65 142.65L162.13 142.84L162.61 143.01L163.10 143.16L163.58 143.29L164.06 143.39L164.55 143.48L165.03 143.56L165.51 143.62L166.00 143.67L166.48 143.72L166.97 143.75L167.45 143.78L167.93 143.81L168.42 143.83L168.90 143.84L169.38 143.85L169.87 143.86L170.35 143.87L170.83 143.88L171.32 143.88L171.80 143.89L172.29 143.89L172.77 143.89L173.25 143.89L173.74 143.90L174.22 143.90L184.38 143.90L184.86 143.90L185.34 143.89L185.83 143.89L186.31 143.89L186.79 143.89L187.28 143.88L187.76 143.87L188.24 143.87L188.73 143.86L189.21 143.85L189.70 143.83L190.18 143.81L190.66 143.79L191.15 143.76L191.63 143.72L192.11 143.67L192.60 143.62L193.08 143.55L193.56 143.47L194.05 143.37L194.53 143.25L195.01 143.11L195.50 142.94L195.98 142.75L196.47 142.52L196.95 142.25L197.43 141.95L197.92 141.59L198.40 141.19L198.88 140.73L199.37 140.21L199.85 139.63L200.33 138.98L200.82 138.26L201.30 137.46L201.79 136.58L202.27 135.63L202.75 134.60L203.24 133.50L203.72 132.32L204.20 131.06L204.69 129.74L205.17 128.37L205.65 126.94L206.14 125.47L206.62 123.97L207.11 122.45L207.59 120.93L208.07 119.43L208.56 117.95L209.04 116.52L209.52 115.15L210.01 113.86L210.49 112.67L210.97 111.58L211.46 110.62L211.94 109.81L212.42 109.14L212.91 108.63L213.39 108.29L213.88 108.12L214.36 108.13L214.84 108.31L215.33 108.66L215.81 109.18L216.29 109.86L216.78 110.69L217.26 111.66L217.74 112.75L218.23 113.95L218.71 115.25L219.20 116.62L219.68 118.06L220.16 119.54L220.65 121.04L221.13 122.56L221.61 124.08L222.10 125.58L222.58 127.04L223.06 128.47L223.55 129.84L224.03 131.16L224.52 132.40L225.00 133.58L225.48 134.68L225.97 135.70L226.45 136.65L226.93 137.52L227.42 138.31L227.90 139.03L228.38 139.67L228.87 140.25L229.35 140.77L229.83 141.22L230.32 141.62L230.80 141.97L231.29 142.28L231.77 142.54L232.25 142.76L232.74 142.96L233.22 143.12L233.70 143.26L234.19 143.38L234.67 143.47L235.15 143.55L235.64 143.62L236.12 143.68L236.61 143.72L237.09 143.76L237.57 143.79L238.06 143.81L238.54 143.83L239.02 143.85L239.51 143.86L239.99 143.87L240.47 143.88L240.96 143.88L241.44 143.89L241.93 143.89L242.41 143.89L242.89 143.89L243.38 143.90L243.86 143.90L254.50 143.90L254.98 143.90L255.47 143.89L255.95 143.89L256.43 143.89L256.92 143.89L257.40 143.88L257.88 143.88L258.37 143.87L258.85 143.86L259.33 143.85L259.82 143.84L260.30 143.83L260.79 143.81L261.27 143.78L261.75 143.76L262.24 143.72L262.72 143.68L263.20 143.63L263.69 143.57L264.17 143.50L264.65 143.41L265.14 143.32L265.62 143.20L266.11 143.07L266.59 142.91L267.07 142.73L267.56 142.53L268.04 142.30L268.52 142.03L269.01 141.74L269.49 141.41L269.97 141.05L270.46 140.65L270.94 140.21L271.43 139.73L271.91 139.22L272.39 138.66L272.88 138.07L273.36 137.44L273.84 136.78L274.33 136.10L274.81 135.38L275.29 134.65L275.78 133.90L276.26 133.15L276.74 132.39L277.23 131.65L277.71 130.91L278.20 130.21L278.68 129.53L279.16 128.89L279.65 128.30L280.13 127.77L280.61 127.30L281.10 126.91L281.58 126.58L282.06 126.34L282.55 126.18L283.03 126.11L283.52 126.12L284.00 126.22L284.48 126.40L284.97 126.67L285.45 127.02L285.93 127.44L286.42 127.93L286.90 128.48L287.38 129.08L287.87 129.73L288.35 130.42L288.84 131.14L289.32 131.87L289.80 132.62L290.29 133.38L290.77 134.13L291.25 134.87L291.74 135.60L292.22 136.31L292.70 136.99L293.19 137.64L293.67 138.25L294.15 138.83L294.64 139.38L295.12 139.88L295.61 140.35L296.09 140.77L296.57 141.16L297.06 141.52L297.54 141.83L298.02 142.12L298.51 142.37L298.99 142.59L299.47 142.79L299.96 142.96L300.44 143.11L300.93 143.24L301.41 143.35L301.89 143.44L302.38 143.52L302.86 143.59L303.34 143.65L303.83 143.69L304.31 143.73L304.79 143.77L305.28 143.79L305.76 143.81L306.25 143.83L306.73 143.85L307.21 143.86L307.70 143.87L308.18 143.87L308.66 143.88L309.15 143.88L309.63 143.89L310.11 143.89L310.60 143.89L311.08 143.89L311.56 143.90L326.56 143.90L327.04 143.90L327.52 143.89L328.01 143.89L328.49 143.89L328.97 143.89L329.46 143.89L329.94 143.88L330.43 143.88L330.91 143.87L331.39 143.87L331.88 143.86L332.36 143.85L332.84 143.84L333.33 143.82L333.81 143.81L334.29 143.79L334.78 143.76L335.26 143.74L335.75 143.71L336.23 143.67L336.71 143.63L337.20 143.59L337.68 143.54L338.16 143.48L338.65 143.42L339.13 143.35L339.61 143.27L340.10 143.18L340.58 143.09L341.06 142.99L341.55 142.89L342.03 142.77L342.52 142.65L343.00 142.53L343.48 142.39L343.97 142.26L344.45 142.12L344.93 141.97L345.42 141.83L345.90 141.69L346.38 141.54L346.87 141.40L347.35 141.27L347.84 141.14L348.32 141.02L348.80 140.91L349.29 140.81L349.77 140.72L350.25 140.65L350.74 140.59L351.22 140.54L351.70 140.51L352.19 140.50L352.67 140.50L353.16 140.53L353.64 140.56L354.12 140.62L354.61 140.68L355.09 140.77L355.57 140.86L356.06 140.97L356.54 141.08L357.02 141.21L357.51 141.34L357.99 141.48L358.47 141.62L358.96 141.76L359.44 141.91L359.93 142.05L360.41 142.19L360.89 142.33L361.38 142.47L361.86 142.59L362.34 142.72L362.83 142.83L363.31 142.94L363.79 143.05L364.28 143.14L364.76 143.23L365.25 143.31L365.73 143.39L366.21 143.45L366.70 143.51L367.18 143.57L367.66 143.61L368.15 143.65L368.63 143.69L369.11 143.72L369.60 143.75L370.08 143.78L370.57 143.80L371.05 143.81L371.53 143.83L372.02 143.84L372.50 143.85L372.98 143.86L373.47 143.87L373.95 143.87L374.43 143.88L374.92 143.88L375.40 143.89L375.88 143.89L376.37 143.89L376.85 143.89L377.34 143.90L377.82 143.90L395.23 143.90L395.71 143.90L396.20 143.89L396.68 143.89L397.16 143.89L397.65 143.89L398.13 143.89L398.61 143.88L399.10 143.88L399.58 143.87L400.07 143.87L400.55 143.86L401.03 143.85L401.52 143.83L402.00 143.82L402.48 143.80L402.97 143.78L403.45 143.76L403.93 143.73L404.42 143.70L404.90 143.66L405.38 143.62L405.87 143.57L406.35 143.52L406.84 143.46L407.32 143.39L407.80 143.31L408.29 143.22L408.77 143.13L409.25 143.03L409.74 142.91L410.22 142.79L410.70 142.66L411.19 142.52L411.67 142.38L412.16 142.22L412.64 142.06L413.12 141.90L413.61 141.73L414.09 141.56L414.57 141.38L415.06 141.21L415.54 141.04L416.02 140.87L416.51 140.71L416.99 140.55L417.48 140.41L417.96 140.28L418.44 140.16L418.93 140.05L419.41 139.97L419.89 139.90L420.38 139.84L420.86 139.81L421.34 139.80L421.83 139.81L422.31 139.84L422.79 139.88L423.28 139.95L423.76 140.03L424.25 140.13L424.73 140.25L425.21 140.38L425.70 140.52L426.18 140.67L426.66 140.83L427.15 141.00L427.63 141.17L428.11 141.34L428.60 141.52L429.08 141.69L429.57 141.86L430.05 142.03L430.53 142.19L431.02 142.34L431.50 142.49L431.98 142.63L432.47 142.76L432.95 142.89L433.43 143.00L433.92 143.11L434.40 143.20L434.88 143.29L435.37 143.37L435.85 143.44L436.34 143.50L436.82 143.56L437.30 143.61L437.79 143.65L438.27 143.69L438.75 143.72L439.24 143.75L439.72 143.78L440.20 143.80L440.69 143.82L441.17 143.83L441.66 143.84L442.14 143.85L442.62 143.86L443.11 143.87L443.59 143.88L444.07 143.88L444.56 143.89L445.04 143.89L445.52 143.89L446.01 143.89L446.49 143.89L446.98 143.90L447.46 143.90L461.97 143.90L462.45 143.90L462.93 143.89L463.42 143.89L463.90 143.89L464.39 143.89L464.87 143.89L465.35 143.89L465.84 143.88L466.32 143.88L466.80 143.88L467.29 143.87L467.77 143.87L468.25 143.86L468.74 143.86L469.22 143.85L469.70 143.84L470.19 143.84L470.67 143.83L471.16 143.81L471.64 143.80L472.12 143.79L472.61 143.77L473.09 143.76L473.57 143.74L474.06 143.72L474.54 143.70L475.02 143.67L475.51 143.65L475.99 143.62L476.48 143.59L476.96 143.56L477.44 143.52L477.93 143.49L478.41 143.45L478.89 143.41L479.38 143.37L479.86 143.33L480.34 143.29L480.83 143.24L481.31 143.20L481.80 143.15L482.28 143.10L482.76 143.06L483.25 143.01L483.73 142.97L484.21 142.92L484.70 142.88L485.18 142.84L485.66 142.80L486.15 142.77L486.63 142.73L487.11 142.70L487.60 142.68L488.08 142.65L488.57 142.63L489.05 142.62L489.53 142.61L490.02 142.60L490.50 142.60L490.50 143.90Z" fill="#fff"/>
<path d="M123.92 143.68L124.41 143.63L124.89 143.57L125.38 143.50L125.86 143.41L126.34 143.30L126.83 143.18L127.31 143.04L127.79 142.87L128.28 142.68L128.76 142.46L129.24 142.21L129.73 141.92L130.21 141.59L130.70 141.23L131.18 140.82L131.66 140.36L132.15 139.86L132.63 139.31L133.11 138.71L133.60 138.06L134.08 137.36L134.56 136.61L135.05 135.82L135.53 134.98L136.01 134.11L136.50 133.20L136.98 132.27L137.47 131.32L137.95 130.35L138.43 129.39L138.92 128.43L139.40 127.48L139.88 126.57L140.37 125.69L140.85 124.86L141.33 124.09L141.82 123.39L142.30 122.77L142.79 122.24L143.27 121.80L143.75 121.47L144.24 121.24L144.72 121.12L145.20 121.11L145.69 121.21L146.17 121.42L146.65 121.74L147.14 122.17L147.62 122.68L148.10 123.29L148.59 123.98L149.07 124.73L149.56 125.55L150.04 126.42L150.52 127.33L151.01 128.27L151.49 129.23L151.97 130.20L152.46 131.16L152.94 132.12L153.42 133.06L153.91 133.97L154.39 134.85L154.88 135.69L155.36 136.49L155.84 137.24L156.33 137.95L156.81 138.61L157.29 139.22L157.78 139.77L158.26 140.28L158.74 140.75L159.23 141.16L159.71 141.54L160.20 141.87L160.68 142.16L161.16 142.42L161.65 142.65L162.13 142.84L162.61 143.01L163.10 143.16L163.58 143.29L164.06 143.39L164.55 143.48L165.03 143.56L165.51 143.62L166.00 143.67L166.48 143.72L166.97 143.75L167.45 143.78L167.93 143.81L168.42 143.83L168.90 143.84L169.38 143.85L169.87 143.86L170.35 143.87L170.83 143.88L171.32 143.88L171.80 143.89L172.29 143.89L172.77 143.89L173.25 143.89L173.74 143.90L174.22 143.90L184.38 143.90L184.86 143.90L185.34 143.89L185.83 143.89L186.31 143.89L186.79 143.89L187.28 143.88L187.76 143.87L188.24 143.87L188.73 143.86L189.21 143.85L189.70 143.83L190.18 143.81L190.66 143.79L191.15 143.76L191.63 143.72L192.11 143.67L192.60 143.62L193.08 143.55L193.56 143.47L194.05 143.37L194.53 143.25L195.01 143.11L195.50 142.94L195.98 142.75L196.47 142.52L196.95 142.25L197.43 141.95L197.92 141.59L198.40 141.19L198.88 140.73L199.37 140.21L199.85 139.63L200.33 138.98L200.82 138.26L201.30 137.46L201.79 136.58L202.27 135.63L202.75 134.60L203.24 133.50L203.72 132.32L204.20 131.06L204.69 129.74L205.17 128.37L205.65 126.94L206.14 125.47L206.62 123.97L207.11 122.45L207.59 120.93L208.07 119.43L208.56 117.95L209.04 116.52L209.52 115.15L210.01 113.86L210.49 112.67L210.97 111.58L211.46 110.62L211.94 109.81L212.42 109.14L212.91 108.63L213.39 108.29L213.88 108.12L214.36 108.13L214.84 108.31L215.33 108.66L215.81 109.18L216.29 109.86L216.78 110.69L217.26 111.66L217.74 112.75L218.23 113.95L218.71 115.25L219.20 116.62L219.68 118.06L220.16 119.54L220.65 121.04L221.13 122.56L221.61 124.08L222.10 125.58L222.58 127.04L223.06 128.47L223.55 129.84L224.03 131.16L224.52 132.40L225.00 133.58L225.48 134.68L225.97 135.70L226.45 136.65L226.93 137.52L227.42 138.31L227.90 139.03L228.38 139.67L228.87 140.25L229.35 140.77L229.83 141.22L230.32 141.62L230.80 141.97L231.29 142.28L231.77 142.54L232.25 142.76L232.74 142.96L233.22 143.12L233.70 143.26L234.19 143.38L234.67 143.47L235.15 143.55L235.64 143.62L236.12 143.68L236.61 143.72L237.09 143.76L237.57 143.79L238.06 143.81L238.54 143.83L239.02 143.85L239.51 143.86L239.99 143.87L240.47 143.88L240.96 143.88L241.44 143.89L241.93 143.89L242.41 143.89L242.89 143.89L243.38 143.90L243.86 143.90L254.50 143.90L254.98 143.90L255.47 143.89L255.95 143.89L256.43 143.89L256.92 143.89L257.40 143.88L257.88 143.88L258.37 143.87L258.85 143.86L259.33 143.85L259.82 143.84L260.30 143.83L260.79 143.81L261.27 143.78L261.75 143.76L262.24 143.72L262.72 143.68L263.20 143.63L263.69 143.57L264.17 143.50L264.65 143.41L265.14 143.32L265.62 143.20L266.11 143.07L266.59 142.91L267.07 142.73L267.56 142.53L268.04 142.30L268.52 142.03L269.01 141.74L269.49 141.41L269.97 141.05L270.46 140.65L270.94 140.21L271.43 139.73L271.91 139.22L272.39 138.66L272.88 138.07L273.36 137.44L273.84 136.78L274.33 136.10L274.81 135.38L275.29 134.65L275.78 133.90L276.26 133.15L276.74 132.39L277.23 131.65L277.71 130.91L278.20 130.21L278.68 129.53L279.16 128.89L279.65 128.30L280.13 127.77L280.61 127.30L281.10 126.91L281.58 126.58L282.06 126.34L282.55 126.18L283.03 126.11L283.52 126.12L284.00 126.22L284.48 126.40L284.97 126.67L285.45 127.02L285.93 127.44L286.42 127.93L286.90 128.48L287.38 129.08L287.87 129.73L288.35 130.42L288.84 131.14L289.32 131.87L289.80 132.62L290.29 133.38L290.77 134.13L291.25 134.87L291.74 135.60L292.22 136.31L292.70 136.99L293.19 137.64L293.67 138.25L294.15 138.83L294.64 139.38L295.12 139.88L295.61 140.35L296.09 140.77L296.57 141.16L297.06 141.52L297.54 141.83L298.02 142.12L298.51 142.37L298.99 142.59L299.47 142.79L299.96 142.96L300.44 143.11L300.93 143.24L301.41 143.35L301.89 143.44L302.38 143.52L302.86 143.59L303.34 143.65L303.83 143.69L304.31 143.73L304.79 143.77L305.28 143.79L305.76 143.81L306.25 143.83L306.73 143.85L307.21 143.86L307.70 143.87L308.18 143.87L308.66 143.88L309.15 143.88L309.63 143.89L310.11 143.89L310.60 143.89L311.08 143.89L311.56 143.90L326.56 143.90L327.04 143.90L327.52 143.89L328.01 143.89L328.49 143.89L328.97 143.89L329.46 143.89L329.94 143.88L330.43 143.88L330.91 143.87L331.39 143.87L331.88 143.86L332.36 143.85L332.84 143.84L333.33 143.82L333.81 143.81L334.29 143.79L334.78 143.76L335.26 143.74L335.75 143.71L336.23 143.67L336.71 143.63L337.20 143.59L337.68 143.54L338.16 143.48L338.65 143.42L339.13 143.35L339.61 143.27L340.10 143.18L340.58 143.09L341.06 142.99L341.55 142.89L342.03 142.77L342.52 142.65L343.00 142.53L343.48 142.39L343.97 142.26L344.45 142.12L344.93 141.97L345.42 141.83L345.90 141.69L346.38 141.54L346.87 141.40L347.35 141.27L347.84 141.14L348.32 141.02L348.80 140.91L349.29 140.81L349.77 140.72L350.25 140.65L350.74 140.59L351.22 140.54L351.70 140.51L352.19 140.50L352.67 140.50L353.16 140.53L353.64 140.56L354.12 140.62L354.61 140.68L355.09 140.77L355.57 140.86L356.06 140.97L356.54 141.08L357.02 141.21L357.51 141.34L357.99 141.48L358.47 141.62L358.96 141.76L359.44 141.91L359.93 142.05L360.41 142.19L360.89 142.33L361.38 142.47L361.86 142.59L362.34 142.72L362.83 142.83L363.31 142.94L363.79 143.05L364.28 143.14L364.76 143.23L365.25 143.31L365.73 143.39L366.21 143.45L366.70 143.51L367.18 143.57L367.66 143.61L368.15 143.65L368.63 143.69L369.11 143.72L369.60 143.75L370.08 143.78L370.57 143.80L371.05 143.81L371.53 143.83L372.02 143.84L372.50 143.85L372.98 143.86L373.47 143.87L373.95 143.87L374.43 143.88L374.92 143.88L375.40 143.89L375.88 143.89L376.37 143.89L376.85 143.89L377.34 143.90L377.82 143.90L395.23 143.90L395.71 143.90L396.20 143.89L396.68 143.89L397.16 143.89L397.65 143.89L398.13 143.89L398.61 143.88L399.10 143.88L399.58 143.87L400.07 143.87L400.55 143.86L401.03 143.85L401.52 143.83L402.00 143.82L402.48 143.80L402.97 143.78L403.45 143.76L403.93 143.73L404.42 143.70L404.90 143.66L405.38 143.62L405.87 143.57L406.35 143.52L406.84 143.46L407.32 143.39L407.80 143.31L408.29 143.22L408.77 143.13L409.25 143.03L409.74 142.91L410.22 142.79L410.70 142.66L411.19 142.52L411.67 142.38L412.16 142.22L412.64 142.06L413.12 141.90L413.61 141.73L414.09 141.56L414.57 141.38L415.06 141.21L415.54 141.04L416.02 140.87L416.51 140.71L416.99 140.55L417.48 140.41L417.96 140.28L418.44 140.16L418.93 140.05L419.41 139.97L419.89 139.90L420.38 139.84L420.86 139.81L421.34 139.80L421.83 139.81L422.31 139.84L422.79 139.88L423.28 139.95L423.76 140.03L424.25 140.13L424.73 140.25L425.21 140.38L425.70 140.52L426.18 140.67L426.66 140.83L427.15 141.00L427.63 141.17L428.11 141.34L428.60 141.52L429.08 141.69L429.57 141.86L430.05 142.03L430.53 142.19L431.02 142.34L431.50 142.49L431.98 142.63L432.47 142.76L432.95 142.89L433.43 143.00L433.92 143.11L434.40 143.20L434.88 143.29L435.37 143.37L435.85 143.44L436.34 143.50L436.82 143.56L437.30 143.61L437.79 143.65L438.27 143.69L438.75 143.72L439.24 143.75L439.72 143.78L440.20 143.80L440.69 143.82L441.17 143.83L441.66 143.84L442.14 143.85L442.62 143.86L443.11 143.87L443.59 143.88L444.07 143.88L444.56 143.89L445.04 143.89L445.52 143.89L446.01 143.89L446.49 143.89L446.98 143.90L447.46 143.90L461.97 143.90L462.45 143.90L462.93 143.89L463.42 143.89L463.90 143.89L464.39 143.89L464.87 143.89L465.35 143.89L465.84 143.88L466.32 143.88L466.80 143.88L467.29 143.87L467.77 143.87L468.25 143.86L468.74 143.86L469.22 143.85L469.70 143.84L470.19 143.84L470.67 143.83L471.16 143.81L471.64 143.80L472.12 143.79L472.61 143.77L473.09 143.76L473.57 143.74L474.06 143.72L474.54 143.70L475.02 143.67L475.51 143.65L475.99 143.62L476.48 143.59L476.96 143.56L477.44 143.52L477.93 143.49L478.41 143.45L478.89 143.41L479.38 143.37L479.86 143.33L480.34 143.29L480.83 143.24L481.31 143.20L481.80 143.15L482.28 143.10L482.76 143.06L483.25 143.01L483.73 142.97L484.21 142.92L484.70 142.88L485.18 142.84L485.66 142.80L486.15 142.77L486.63 142.73L487.11 142.70L487.60 142.68L488.08 142.65L488.57 142.63L489.05 142.62L489.53 142.61L490.02 142.60L490.50 142.60" fill="none" stroke="#000" stroke-width="1.30" stroke-linejoin="round"/>
<path d="M165.73 143.90L165.73 143.90L186.52 143.90L187.01 143.89L187.49 143.89L187.98 143.89L188.46 143.89L188.94 143.89L189.43 143.88L189.91 143.88L190.39 143.87L190.88 143.86L191.36 143.85L191.84 143.84L192.33 143.82L192.81 143.80L193.29 143.78L193.78 143.75L194.26 143.72L194.75 143.68L195.23 143.63L195.71 143.57L196.20 143.51L196.68 143.43L197.16 143.34L197.65 143.24L198.13 143.12L198.61 142.98L199.10 142.83L199.58 142.66L200.07 142.46L200.55 142.25L201.03 142.01L201.52 141.75L202.00 141.46L202.48 141.15L202.97 140.81L203.45 140.45L203.93 140.07L204.42 139.67L204.90 139.24L205.38 138.80L205.87 138.34L206.35 137.87L206.84 137.40L207.32 136.92L207.80 136.44L208.29 135.97L208.77 135.51L209.25 135.06L209.74 134.64L210.22 134.25L210.70 133.89L211.19 133.56L211.67 133.28L212.15 133.04L212.64 132.85L213.12 132.71L213.61 132.63L214.09 132.60L214.57 132.63L215.06 132.71L215.54 132.84L216.02 133.03L216.51 133.27L216.99 133.55L217.47 133.87L217.96 134.23L218.44 134.62L218.93 135.04L219.41 135.49L219.89 135.95L220.38 136.42L220.86 136.90L221.34 137.38L221.83 137.85L222.31 138.32L222.79 138.78L223.28 139.22L223.76 139.65L224.24 140.05L224.73 140.44L225.21 140.80L225.70 141.14L226.18 141.45L226.66 141.74L227.15 142.00L227.63 142.24L228.11 142.45L228.60 142.65L229.08 142.82L229.56 142.98L230.05 143.11L230.53 143.23L231.01 143.34L231.50 143.43L231.98 143.50L232.47 143.57L232.95 143.63L233.43 143.67L233.92 143.71L234.40 143.75L234.88 143.78L235.37 143.80L235.85 143.82L236.33 143.84L236.82 143.85L237.30 143.86L237.79 143.87L238.27 143.88L238.75 143.88L239.24 143.88L239.72 143.89L240.20 143.89L240.69 143.89L241.17 143.89L241.65 143.90L256.65 143.90L257.13 143.89L257.61 143.89L258.10 143.89L258.58 143.89L259.06 143.89L259.55 143.88L260.03 143.88L260.51 143.87L261.00 143.86L261.48 143.85L261.96 143.84L262.45 143.83L262.93 143.81L263.42 143.80L263.90 143.77L264.38 143.75L264.87 143.71L265.35 143.68L265.83 143.63L266.32 143.58L266.80 143.52L267.28 143.46L267.77 143.38L268.25 143.29L268.74 143.20L269.22 143.09L269.70 142.97L270.19 142.83L270.67 142.68L271.15 142.52L271.64 142.35L272.12 142.16L272.60 141.96L273.09 141.74L273.57 141.51L274.05 141.28L274.54 141.03L275.02 140.77L275.51 140.51L275.99 140.25L276.47 139.98L276.96 139.71L277.44 139.45L277.92 139.19L278.41 138.95L278.89 138.71L279.37 138.50L279.86 138.30L280.34 138.12L280.83 137.96L281.31 137.83L281.79 137.73L282.28 137.66L282.76 137.61L283.24 137.60L283.73 137.62L284.21 137.67L284.69 137.75L285.18 137.85L285.66 137.99L286.14 138.15L286.63 138.33L287.11 138.53L287.60 138.75L288.08 138.99L288.56 139.24L289.05 139.50L289.53 139.76L290.01 140.03L290.50 140.29L290.98 140.56L291.46 140.82L291.95 141.07L292.43 141.32L292.91 141.56L293.40 141.78L293.88 141.99L294.37 142.19L294.85 142.38L295.33 142.55L295.82 142.71L296.30 142.86L296.78 142.99L297.27 143.11L297.75 143.21L298.23 143.31L298.72 143.39L299.20 143.47L299.69 143.53L300.17 143.59L300.65 143.64L301.14 143.68L301.62 143.72L302.10 143.75L302.59 143.78L303.07 143.80L303.55 143.82L304.04 143.83L304.52 143.85L305.00 143.86L305.49 143.87L305.97 143.87L306.46 143.88L306.94 143.88L307.42 143.89L307.91 143.89L308.39 143.89L308.87 143.89L309.36 143.90L309.84 143.90L328.70 143.90L329.18 143.90L329.67 143.89L330.15 143.89L330.64 143.89L331.12 143.89L331.60 143.89L332.09 143.88L332.57 143.88L333.05 143.87L333.54 143.87L334.02 143.86L334.50 143.85L334.99 143.84L335.47 143.83L335.95 143.82L336.44 143.81L336.92 143.79L337.41 143.77L337.89 143.75L338.37 143.73L338.86 143.70L339.34 143.68L339.82 143.65L340.31 143.61L340.79 143.58L341.27 143.54L341.76 143.49L342.24 143.45L342.72 143.40L343.21 143.35L343.69 143.30L344.18 143.25L344.66 143.19L345.14 143.14L345.63 143.08L346.11 143.03L346.59 142.98L347.08 142.92L347.56 142.87L348.04 142.82L348.53 142.78L349.01 142.74L349.50 142.70L349.98 142.67L350.46 142.65L350.95 142.62L351.43 142.61L351.91 142.60L352.40 142.60L352.88 142.60L353.36 142.62L353.85 142.63L354.33 142.65L354.81 142.68L355.30 142.72L355.78 142.75L356.27 142.80L356.75 142.84L357.23 142.89L357.72 142.94L358.20 143.00L358.68 143.05L359.17 143.11L359.65 143.16L360.13 143.22L360.62 143.27L361.10 143.32L361.58 143.37L362.07 143.42L362.55 143.47L363.04 143.51L363.52 143.55L364.00 143.59L364.49 143.63L364.97 143.66L365.45 143.69L365.94 143.71L366.42 143.74L366.90 143.76L367.39 143.78L367.87 143.80L368.36 143.81L368.84 143.83L369.32 143.84L369.81 143.85L370.29 143.86L370.77 143.86L371.26 143.87L371.74 143.88L372.22 143.88L372.71 143.88L373.19 143.89L373.67 143.89L374.16 143.89L374.64 143.89L375.13 143.89L375.61 143.90L376.09 143.90L397.85 143.90L398.34 143.90L398.82 143.89L399.31 143.89L399.79 143.89L400.27 143.89L400.76 143.89L401.24 143.88L401.72 143.88L402.21 143.88L402.69 143.87L403.17 143.87L403.66 143.86L404.14 143.85L404.62 143.84L405.11 143.83L405.59 143.82L406.08 143.81L406.56 143.79L407.04 143.77L407.53 143.75L408.01 143.73L408.49 143.71L408.98 143.68L409.46 143.65L409.94 143.62L410.43 143.59L410.91 143.55L411.40 143.51L411.88 143.47L412.36 143.43L412.85 143.39L413.33 143.34L413.81 143.30L414.30 143.25L414.78 143.20L415.26 143.16L415.75 143.11L416.23 143.07L416.71 143.03L417.20 142.99L417.68 142.95L418.17 142.91L418.65 142.88L419.13 142.86L419.62 142.84L420.10 142.82L420.58 142.81L421.07 142.80L421.55 142.80L422.03 142.80L422.52 142.81L423.00 142.83L423.48 142.85L423.97 142.87L424.45 142.90L424.94 142.93L425.42 142.97L425.90 143.01L426.39 143.05L426.87 143.10L427.35 143.14L427.84 143.19L428.32 143.23L428.80 143.28L429.29 143.33L429.77 143.37L430.26 143.42L430.74 143.46L431.22 143.50L431.71 143.54L432.19 143.57L432.67 143.61L433.16 143.64L433.64 143.67L434.12 143.70L434.61 143.72L435.09 143.75L435.57 143.77L436.06 143.78L436.54 143.80L437.03 143.81L437.51 143.83L437.99 143.84L438.48 143.85L438.96 143.86L439.44 143.86L439.93 143.87L440.41 143.88L440.89 143.88L441.38 143.88L441.86 143.89L442.34 143.89L442.83 143.89L443.31 143.89L443.80 143.89L444.28 143.90L444.76 143.90L476.68 143.90L476.68 143.90Z" fill="#A8002B"/>
<path d="M165.73 143.90L186.52 143.90L187.01 143.89L187.49 143.89L187.98 143.89L188.46 143.89L188.94 143.89L189.43 143.88L189.91 143.88L190.39 143.87L190.88 143.86L191.36 143.85L191.84 143.84L192.33 143.82L192.81 143.80L193.29 143.78L193.78 143.75L194.26 143.72L194.75 143.68L195.23 143.63L195.71 143.57L196.20 143.51L196.68 143.43L197.16 143.34L197.65 143.24L198.13 143.12L198.61 142.98L199.10 142.83L199.58 142.66L200.07 142.46L200.55 142.25L201.03 142.01L201.52 141.75L202.00 141.46L202.48 141.15L202.97 140.81L203.45 140.45L203.93 140.07L204.42 139.67L204.90 139.24L205.38 138.80L205.87 138.34L206.35 137.87L206.84 137.40L207.32 136.92L207.80 136.44L208.29 135.97L208.77 135.51L209.25 135.06L209.74 134.64L210.22 134.25L210.70 133.89L211.19 133.56L211.67 133.28L212.15 133.04L212.64 132.85L213.12 132.71L213.61 132.63L214.09 132.60L214.57 132.63L215.06 132.71L215.54 132.84L216.02 133.03L216.51 133.27L216.99 133.55L217.47 133.87L217.96 134.23L218.44 134.62L218.93 135.04L219.41 135.49L219.89 135.95L220.38 136.42L220.86 136.90L221.34 137.38L221.83 137.85L222.31 138.32L222.79 138.78L223.28 139.22L223.76 139.65L224.24 140.05L224.73 140.44L225.21 140.80L225.70 141.14L226.18 141.45L226.66 141.74L227.15 142.00L227.63 142.24L228.11 142.45L228.60 142.65L229.08 142.82L229.56 142.98L230.05 143.11L230.53 143.23L231.01 143.34L231.50 143.43L231.98 143.50L232.47 143.57L232.95 143.63L233.43 143.67L233.92 143.71L234.40 143.75L234.88 143.78L235.37 143.80L235.85 143.82L236.33 143.84L236.82 143.85L237.30 143.86L237.79 143.87L238.27 143.88L238.75 143.88L239.24 143.88L239.72 143.89L240.20 143.89L240.69 143.89L241.17 143.89L241.65 143.90L256.65 143.90L257.13 143.89L257.61 143.89L258.10 143.89L258.58 143.89L259.06 143.89L259.55 143.88L260.03 143.88L260.51 143.87L261.00 143.86L261.48 143.85L261.96 143.84L262.45 143.83L262.93 143.81L263.42 143.80L263.90 143.77L264.38 143.75L264.87 143.71L265.35 143.68L265.83 143.63L266.32 143.58L266.80 143.52L267.28 143.46L267.77 143.38L268.25 143.29L268.74 143.20L269.22 143.09L269.70 142.97L270.19 142.83L270.67 142.68L271.15 142.52L271.64 142.35L272.12 142.16L272.60 141.96L273.09 141.74L273.57 141.51L274.05 141.28L274.54 141.03L275.02 140.77L275.51 140.51L275.99 140.25L276.47 139.98L276.96 139.71L277.44 139.45L277.92 139.19L278.41 138.95L278.89 138.71L279.37 138.50L279.86 138.30L280.34 138.12L280.83 137.96L281.31 137.83L281.79 137.73L282.28 137.66L282.76 137.61L283.24 137.60L283.73 137.62L284.21 137.67L284.69 137.75L285.18 137.85L285.66 137.99L286.14 138.15L286.63 138.33L287.11 138.53L287.60 138.75L288.08 138.99L288.56 139.24L289.05 139.50L289.53 139.76L290.01 140.03L290.50 140.29L290.98 140.56L291.46 140.82L291.95 141.07L292.43 141.32L292.91 141.56L293.40 141.78L293.88 141.99L294.37 142.19L294.85 142.38L295.33 142.55L295.82 142.71L296.30 142.86L296.78 142.99L297.27 143.11L297.75 143.21L298.23 143.31L298.72 143.39L299.20 143.47L299.69 143.53L300.17 143.59L300.65 143.64L301.14 143.68L301.62 143.72L302.10 143.75L302.59 143.78L303.07 143.80L303.55 143.82L304.04 143.83L304.52 143.85L305.00 143.86L305.49 143.87L305.97 143.87L306.46 143.88L306.94 143.88L307.42 143.89L307.91 143.89L308.39 143.89L308.87 143.89L309.36 143.90L309.84 143.90L328.70 143.90L329.18 143.90L329.67 143.89L330.15 143.89L330.64 143.89L331.12 143.89L331.60 143.89L332.09 143.88L332.57 143.88L333.05 143.87L333.54 143.87L334.02 143.86L334.50 143.85L334.99 143.84L335.47 143.83L335.95 143.82L336.44 143.81L336.92 143.79L337.41 143.77L337.89 143.75L338.37 143.73L338.86 143.70L339.34 143.68L339.82 143.65L340.31 143.61L340.79 143.58L341.27 143.54L341.76 143.49L342.24 143.45L342.72 143.40L343.21 143.35L343.69 143.30L344.18 143.25L344.66 143.19L345.14 143.14L345.63 143.08L346.11 143.03L346.59 142.98L347.08 142.92L347.56 142.87L348.04 142.82L348.53 142.78L349.01 142.74L349.50 142.70L349.98 142.67L350.46 142.65L350.95 142.62L351.43 142.61L351.91 142.60L352.40 142.60L352.88 142.60L353.36 142.62L353.85 142.63L354.33 142.65L354.81 142.68L355.30 142.72L355.78 142.75L356.27 142.80L356.75 142.84L357.23 142.89L357.72 142.94L358.20 143.00L358.68 143.05L359.17 143.11L359.65 143.16L360.13 143.22L360.62 143.27L361.10 143.32L361.58 143.37L362.07 143.42L362.55 143.47L363.04 143.51L363.52 143.55L364.00 143.59L364.49 143.63L364.97 143.66L365.45 143.69L365.94 143.71L366.42 143.74L366.90 143.76L367.39 143.78L367.87 143.80L368.36 143.81L368.84 143.83L369.32 143.84L369.81 143.85L370.29 143.86L370.77 143.86L371.26 143.87L371.74 143.88L372.22 143.88L372.71 143.88L373.19 143.89L373.67 143.89L374.16 143.89L374.64 143.89L375.13 143.89L375.61 143.90L376.09 143.90L397.85 143.90L398.34 143.90L398.82 143.89L399.31 143.89L399.79 143.89L400.27 143.89L400.76 143.89L401.24 143.88L401.72 143.88L402.21 143.88L402.69 143.87L403.17 143.87L403.66 143.86L404.14 143.85L404.62 143.84L405.11 143.83L405.59 143.82L406.08 143.81L406.56 143.79L407.04 143.77L407.53 143.75L408.01 143.73L408.49 143.71L408.98 143.68L409.46 143.65L409.94 143.62L410.43 143.59L410.91 143.55L411.40 143.51L411.88 143.47L412.36 143.43L412.85 143.39L413.33 143.34L413.81 143.30L414.30 143.25L414.78 143.20L415.26 143.16L415.75 143.11L416.23 143.07L416.71 143.03L417.20 142.99L417.68 142.95L418.17 142.91L418.65 142.88L419.13 142.86L419.62 142.84L420.10 142.82L420.58 142.81L421.07 142.80L421.55 142.80L422.03 142.80L422.52 142.81L423.00 142.83L423.48 142.85L423.97 142.87L424.45 142.90L424.94 142.93L425.42 142.97L425.90 143.01L426.39 143.05L426.87 143.10L427.35 143.14L427.84 143.19L428.32 143.23L428.80 143.28L429.29 143.33L429.77 143.37L430.26 143.42L430.74 143.46L431.22 143.50L431.71 143.54L432.19 143.57L432.67 143.61L433.16 143.64L433.64 143.67L434.12 143.70L434.61 143.72L435.09 143.75L435.57 143.77L436.06 143.78L436.54 143.80L437.03 143.81L437.51 143.83L437.99 143.84L438.48 143.85L438.96 143.86L439.44 143.86L439.93 143.87L440.41 143.88L440.89 143.88L441.38 143.88L441.86 143.89L442.34 143.89L442.83 143.89L443.31 143.89L443.80 143.89L444.28 143.90L444.76 143.90L476.68 143.90" fill="none" stroke="#000" stroke-width="1.30" stroke-linejoin="round"/>
<path d="M165.73 143.90L165.73 143.90L260.03 143.90L260.51 143.90L261.00 143.89L261.48 143.89L261.96 143.89L262.45 143.89L262.93 143.89L263.42 143.88L263.90 143.88L264.38 143.88L264.87 143.87L265.35 143.86L265.83 143.86L266.32 143.85L266.80 143.84L267.28 143.83L267.77 143.82L268.25 143.80L268.74 143.79L269.22 143.77L269.70 143.75L270.19 143.73L270.67 143.71L271.15 143.68L271.64 143.65L272.12 143.62L272.60 143.59L273.09 143.56L273.57 143.52L274.05 143.48L274.54 143.44L275.02 143.40L275.51 143.36L275.99 143.32L276.47 143.28L276.96 143.24L277.44 143.19L277.92 143.15L278.41 143.11L278.89 143.08L279.37 143.04L279.86 143.01L280.34 142.98L280.83 142.96L281.31 142.94L281.79 142.92L282.28 142.91L282.76 142.90L283.24 142.90L283.73 142.90L284.21 142.91L284.69 142.92L285.18 142.94L285.66 142.96L286.14 142.99L286.63 143.02L287.11 143.05L287.60 143.08L288.08 143.12L288.56 143.16L289.05 143.20L289.53 143.24L290.01 143.28L290.50 143.33L290.98 143.37L291.46 143.41L291.95 143.45L292.43 143.49L292.91 143.53L293.40 143.56L293.88 143.60L294.37 143.63L294.85 143.66L295.33 143.69L295.82 143.71L296.30 143.73L296.78 143.76L297.27 143.77L297.75 143.79L298.23 143.81L298.72 143.82L299.20 143.83L299.69 143.84L300.17 143.85L300.65 143.86L301.14 143.87L301.62 143.87L302.10 143.88L302.59 143.88L303.07 143.88L303.55 143.89L304.04 143.89L304.52 143.89L305.00 143.89L305.49 143.89L305.97 143.90L306.46 143.90L400.76 143.90L401.24 143.90L401.72 143.89L402.21 143.89L402.69 143.89L403.17 143.89L403.66 143.89L404.14 143.89L404.62 143.88L405.11 143.88L405.59 143.88L406.08 143.87L406.56 143.87L407.04 143.87L407.53 143.86L408.01 143.85L408.49 143.85L408.98 143.84L409.46 143.83L409.94 143.82L410.43 143.81L410.91 143.81L411.40 143.79L411.88 143.78L412.36 143.77L412.85 143.76L413.33 143.75L413.81 143.74L414.30 143.72L414.78 143.71L415.26 143.70L415.75 143.69L416.23 143.67L416.71 143.66L417.20 143.65L417.68 143.64L418.17 143.63L418.65 143.62L419.13 143.62L419.62 143.61L420.10 143.61L420.58 143.60L421.07 143.60L421.55 143.60L422.03 143.60L422.52 143.60L423.00 143.61L423.48 143.61L423.97 143.62L424.45 143.63L424.94 143.64L425.42 143.65L425.90 143.66L426.39 143.67L426.87 143.68L427.35 143.69L427.84 143.71L428.32 143.72L428.80 143.73L429.29 143.74L429.77 143.76L430.26 143.77L430.74 143.78L431.22 143.79L431.71 143.80L432.19 143.81L432.67 143.82L433.16 143.83L433.64 143.84L434.12 143.84L434.61 143.85L435.09 143.86L435.57 143.86L436.06 143.87L436.54 143.87L437.03 143.88L437.51 143.88L437.99 143.88L438.48 143.89L438.96 143.89L439.44 143.89L439.93 143.89L440.41 143.89L440.89 143.89L441.38 143.90L441.86 143.90L476.68 143.90L476.68 143.90Z" fill="#2F4D86"/>
<path d="M165.73 143.90L260.03 143.90L260.51 143.90L261.00 143.89L261.48 143.89L261.96 143.89L262.45 143.89L262.93 143.89L263.42 143.88L263.90 143.88L264.38 143.88L264.87 143.87L265.35 143.86L265.83 143.86L266.32 143.85L266.80 143.84L267.28 143.83L267.77 143.82L268.25 143.80L268.74 143.79L269.22 143.77L269.70 143.75L270.19 143.73L270.67 143.71L271.15 143.68L271.64 143.65L272.12 143.62L272.60 143.59L273.09 143.56L273.57 143.52L274.05 143.48L274.54 143.44L275.02 143.40L275.51 143.36L275.99 143.32L276.47 143.28L276.96 143.24L277.44 143.19L277.92 143.15L278.41 143.11L278.89 143.08L279.37 143.04L279.86 143.01L280.34 142.98L280.83 142.96L281.31 142.94L281.79 142.92L282.28 142.91L282.76 142.90L283.24 142.90L283.73 142.90L284.21 142.91L284.69 142.92L285.18 142.94L285.66 142.96L286.14 142.99L286.63 143.02L287.11 143.05L287.60 143.08L288.08 143.12L288.56 143.16L289.05 143.20L289.53 143.24L290.01 143.28L290.50 143.33L290.98 143.37L291.46 143.41L291.95 143.45L292.43 143.49L292.91 143.53L293.40 143.56L293.88 143.60L294.37 143.63L294.85 143.66L295.33 143.69L295.82 143.71L296.30 143.73L296.78 143.76L297.27 143.77L297.75 143.79L298.23 143.81L298.72 143.82L299.20 143.83L299.69 143.84L300.17 143.85L300.65 143.86L301.14 143.87L301.62 143.87L302.10 143.88L302.59 143.88L303.07 143.88L303.55 143.89L304.04 143.89L304.52 143.89L305.00 143.89L305.49 143.89L305.97 143.90L306.46 143.90L400.76 143.90L401.24 143.90L401.72 143.89L402.21 143.89L402.69 143.89L403.17 143.89L403.66 143.89L404.14 143.89L404.62 143.88L405.11 143.88L405.59 143.88L406.08 143.87L406.56 143.87L407.04 143.87L407.53 143.86L408.01 143.85L408.49 143.85L408.98 143.84L409.46 143.83L409.94 143.82L410.43 143.81L410.91 143.81L411.40 143.79L411.88 143.78L412.36 143.77L412.85 143.76L413.33 143.75L413.81 143.74L414.30 143.72L414.78 143.71L415.26 143.70L415.75 143.69L416.23 143.67L416.71 143.66L417.20 143.65L417.68 143.64L418.17 143.63L418.65 143.62L419.13 143.62L419.62 143.61L420.10 143.61L420.58 143.60L421.07 143.60L421.55 143.60L422.03 143.60L422.52 143.60L423.00 143.61L423.48 143.61L423.97 143.62L424.45 143.63L424.94 143.64L425.42 143.65L425.90 143.66L426.39 143.67L426.87 143.68L427.35 143.69L427.84 143.71L428.32 143.72L428.80 143.73L429.29 143.74L429.77 143.76L430.26 143.77L430.74 143.78L431.22 143.79L431.71 143.80L432.19 143.81L432.67 143.82L433.16 143.83L433.64 143.84L434.12 143.84L434.61 143.85L435.09 143.86L435.57 143.86L436.06 143.87L436.54 143.87L437.03 143.88L437.51 143.88L437.99 143.88L438.48 143.89L438.96 143.89L439.44 143.89L439.93 143.89L440.41 143.89L440.89 143.89L441.38 143.90L441.86 143.90L476.68 143.90" fill="none" stroke="#000" stroke-width="1.30" stroke-linejoin="round"/>
<path d="M123.92 182.40L123.92 181.98L124.41 181.89L124.89 181.77L125.38 181.63L125.86 181.46L126.34 181.26L126.83 181.03L127.31 180.76L127.79 180.44L128.28 180.07L128.76 179.65L129.24 179.17L129.73 178.62L130.21 178.00L130.70 177.30L131.18 176.52L131.66 175.65L132.15 174.69L132.63 173.64L133.11 172.49L133.60 171.25L134.08 169.92L134.56 168.49L135.05 166.98L135.53 165.39L136.01 163.72L136.50 161.99L136.98 160.21L137.47 158.39L137.95 156.55L138.43 154.71L138.92 152.88L139.40 151.08L139.88 149.33L140.37 147.66L140.85 146.08L141.33 144.61L141.82 143.28L142.30 142.09L142.79 141.08L143.27 140.24L143.75 139.60L144.24 139.17L144.72 138.94L145.20 138.92L145.69 139.11L146.17 139.52L146.65 140.13L147.14 140.93L147.62 141.92L148.10 143.08L148.59 144.39L149.07 145.83L149.56 147.40L150.04 149.06L150.52 150.79L151.01 152.59L151.49 154.42L151.97 156.26L152.46 158.10L152.94 159.92L153.42 161.71L153.91 163.45L154.39 165.13L154.88 166.73L155.36 168.26L155.84 169.70L156.33 171.05L156.81 172.30L157.29 173.46L157.78 174.53L158.26 175.50L158.74 176.38L159.23 177.18L159.71 177.89L160.20 178.52L160.68 179.08L161.16 179.58L161.65 180.01L162.13 180.39L162.61 180.71L163.10 180.99L163.58 181.23L164.06 181.43L164.55 181.60L165.03 181.75L165.51 181.87L166.00 181.97L166.48 182.05L166.97 182.12L167.45 182.18L167.93 182.22L168.42 182.26L168.90 182.29L169.38 182.31L169.87 182.33L170.35 182.35L170.83 182.36L171.32 182.37L171.80 182.38L172.29 182.38L172.77 182.39L173.25 182.39L173.74 182.39L174.22 182.39L174.70 182.40L175.19 182.40L184.86 182.40L185.34 182.40L185.83 182.39L186.31 182.39L186.79 182.39L187.28 182.39L187.76 182.38L188.24 182.37L188.73 182.37L189.21 182.36L189.70 182.35L190.18 182.33L190.66 182.31L191.15 182.29L191.63 182.26L192.11 182.22L192.60 182.18L193.08 182.13L193.56 182.06L194.05 181.99L194.53 181.90L195.01 181.79L195.50 181.66L195.98 181.51L196.47 181.33L196.95 181.12L197.43 180.88L197.92 180.61L198.40 180.30L198.88 179.94L199.37 179.54L199.85 179.08L200.33 178.58L200.82 178.02L201.30 177.40L201.79 176.72L202.27 175.98L202.75 175.18L203.24 174.32L203.72 173.40L204.20 172.43L204.69 171.41L205.17 170.34L205.65 169.23L206.14 168.09L206.62 166.92L207.11 165.75L207.59 164.57L208.07 163.40L208.56 162.25L209.04 161.14L209.52 160.08L210.01 159.07L210.49 158.15L210.97 157.30L211.46 156.56L211.94 155.92L212.42 155.40L212.91 155.01L213.39 154.75L213.88 154.61L214.36 154.62L214.84 154.76L215.33 155.03L215.81 155.44L216.29 155.97L216.78 156.61L217.26 157.36L217.74 158.21L218.23 159.14L218.71 160.15L219.20 161.22L219.68 162.33L220.16 163.48L220.65 164.65L221.13 165.83L221.61 167.01L222.10 168.17L222.58 169.31L223.06 170.42L223.55 171.48L224.03 172.50L224.52 173.47L225.00 174.39L225.48 175.24L225.97 176.04L226.45 176.77L226.93 177.44L227.42 178.06L227.90 178.62L228.38 179.12L228.87 179.57L229.35 179.97L229.83 180.32L230.32 180.63L230.80 180.90L231.29 181.14L231.77 181.34L232.25 181.52L232.74 181.67L233.22 181.80L233.70 181.90L234.19 181.99L234.67 182.07L235.15 182.13L235.64 182.18L236.12 182.23L236.61 182.26L237.09 182.29L237.57 182.31L238.06 182.33L238.54 182.35L239.02 182.36L239.51 182.37L239.99 182.38L240.47 182.38L240.96 182.39L241.44 182.39L241.93 182.39L242.41 182.39L242.89 182.40L243.38 182.40L255.47 182.40L255.95 182.40L256.43 182.39L256.92 182.39L257.40 182.39L257.88 182.39L258.37 182.38L258.85 182.38L259.33 182.37L259.82 182.37L260.30 182.36L260.79 182.35L261.27 182.34L261.75 182.32L262.24 182.30L262.72 182.28L263.20 182.25L263.69 182.21L264.17 182.17L264.65 182.13L265.14 182.07L265.62 182.01L266.11 181.93L266.59 181.84L267.07 181.74L267.56 181.63L268.04 181.50L268.52 181.35L269.01 181.19L269.49 181.00L269.97 180.80L270.46 180.57L270.94 180.33L271.43 180.06L271.91 179.77L272.39 179.46L272.88 179.12L273.36 178.77L273.84 178.40L274.33 178.02L274.81 177.61L275.29 177.20L275.78 176.78L276.26 176.36L276.74 175.94L277.23 175.52L277.71 175.10L278.20 174.71L278.68 174.33L279.16 173.97L279.65 173.64L280.13 173.34L280.61 173.08L281.10 172.85L281.58 172.67L282.06 172.53L282.55 172.44L283.03 172.40L283.52 172.41L284.00 172.47L284.48 172.57L284.97 172.72L285.45 172.92L285.93 173.15L286.42 173.43L286.90 173.74L287.38 174.08L287.87 174.44L288.35 174.83L288.84 175.23L289.32 175.64L289.80 176.06L290.29 176.49L290.77 176.91L291.25 177.33L291.74 177.74L292.22 178.13L292.70 178.52L293.19 178.88L293.67 179.23L294.15 179.55L294.64 179.86L295.12 180.14L295.61 180.40L296.09 180.64L296.57 180.86L297.06 181.06L297.54 181.24L298.02 181.40L298.51 181.54L298.99 181.67L299.47 181.78L299.96 181.87L300.44 181.96L300.93 182.03L301.41 182.09L301.89 182.14L302.38 182.19L302.86 182.23L303.34 182.26L303.83 182.28L304.31 182.31L304.79 182.32L305.28 182.34L305.76 182.35L306.25 182.36L306.73 182.37L307.21 182.38L307.70 182.38L308.18 182.39L308.66 182.39L309.15 182.39L309.63 182.39L310.11 182.39L310.60 182.40L327.04 182.40L327.52 182.40L328.01 182.39L328.49 182.39L328.97 182.39L329.46 182.39L329.94 182.38L330.43 182.38L330.91 182.38L331.39 182.37L331.88 182.36L332.36 182.35L332.84 182.34L333.33 182.33L333.81 182.32L334.29 182.30L334.78 182.28L335.26 182.26L335.75 182.23L336.23 182.20L336.71 182.16L337.20 182.12L337.68 182.08L338.16 182.03L338.65 181.97L339.13 181.91L339.61 181.84L340.10 181.77L340.58 181.69L341.06 181.60L341.55 181.51L342.03 181.41L342.52 181.30L343.00 181.19L343.48 181.07L343.97 180.95L344.45 180.83L344.93 180.70L345.42 180.57L345.90 180.45L346.38 180.32L346.87 180.20L347.35 180.08L347.84 179.97L348.32 179.86L348.80 179.76L349.29 179.67L349.77 179.59L350.25 179.53L350.74 179.48L351.22 179.44L351.70 179.41L352.19 179.40L352.67 179.40L353.16 179.42L353.64 179.46L354.12 179.50L354.61 179.56L355.09 179.63L355.57 179.72L356.06 179.81L356.54 179.91L357.02 180.03L357.51 180.14L357.99 180.26L358.47 180.39L358.96 180.51L359.44 180.64L359.93 180.77L360.41 180.89L360.89 181.02L361.38 181.13L361.86 181.25L362.34 181.36L362.83 181.46L363.31 181.56L363.79 181.65L364.28 181.73L364.76 181.81L365.25 181.88L365.73 181.95L366.21 182.00L366.70 182.06L367.18 182.10L367.66 182.15L368.15 182.18L368.63 182.22L369.11 182.24L369.60 182.27L370.08 182.29L370.57 182.31L371.05 182.32L371.53 182.34L372.02 182.35L372.50 182.36L372.98 182.37L373.47 182.37L373.95 182.38L374.43 182.38L374.92 182.39L375.40 182.39L375.88 182.39L376.37 182.39L376.85 182.39L377.34 182.40L377.82 182.40L490.50 182.40L490.50 182.40Z" fill="#fff"/>
<path d="M123.92 181.98L124.41 181.89L124.89 181.77L125.38 181.63L125.86 181.46L126.34 181.26L126.83 181.03L127.31 180.76L127.79 180.44L128.28 180.07L128.76 179.65L129.24 179.17L129.73 178.62L130.21 178.00L130.70 177.30L131.18 176.52L131.66 175.65L132.15 174.69L132.63 173.64L133.11 172.49L133.60 171.25L134.08 169.92L134.56 168.49L135.05 166.98L135.53 165.39L136.01 163.72L136.50 161.99L136.98 160.21L137.47 158.39L137.95 156.55L138.43 154.71L138.92 152.88L139.40 151.08L139.88 149.33L140.37 147.66L140.85 146.08L141.33 144.61L141.82 143.28L142.30 142.09L142.79 141.08L143.27 140.24L143.75 139.60L144.24 139.17L144.72 138.94L145.20 138.92L145.69 139.11L146.17 139.52L146.65 140.13L147.14 140.93L147.62 141.92L148.10 143.08L148.59 144.39L149.07 145.83L149.56 147.40L150.04 149.06L150.52 150.79L151.01 152.59L151.49 154.42L151.97 156.26L152.46 158.10L152.94 159.92L153.42 161.71L153.91 163.45L154.39 165.13L154.88 166.73L155.36 168.26L155.84 169.70L156.33 171.05L156.81 172.30L157.29 173.46L157.78 174.53L158.26 175.50L158.74 176.38L159.23 177.18L159.71 177.89L160.20 178.52L160.68 179.08L161.16 179.58L161.65 180.01L162.13 180.39L162.61 180.71L163.10 180.99L163.58 181.23L164.06 181.43L164.55 181.60L165.03 181.75L165.51 181.87L166.00 181.97L166.48 182.05L166.97 182.12L167.45 182.18L167.93 182.22L168.42 182.26L168.90 182.29L169.38 182.31L169.87 182.33L170.35 182.35L170.83 182.36L171.32 182.37L171.80 182.38L172.29 182.38L172.77 182.39L173.25 182.39L173.74 182.39L174.22 182.39L174.70 182.40L175.19 182.40L184.86 182.40L185.34 182.40L185.83 182.39L186.31 182.39L186.79 182.39L187.28 182.39L187.76 182.38L188.24 182.37L188.73 182.37L189.21 182.36L189.70 182.35L190.18 182.33L190.66 182.31L191.15 182.29L191.63 182.26L192.11 182.22L192.60 182.18L193.08 182.13L193.56 182.06L194.05 181.99L194.53 181.90L195.01 181.79L195.50 181.66L195.98 181.51L196.47 181.33L196.95 181.12L197.43 180.88L197.92 180.61L198.40 180.30L198.88 179.94L199.37 179.54L199.85 179.08L200.33 178.58L200.82 178.02L201.30 177.40L201.79 176.72L202.27 175.98L202.75 175.18L203.24 174.32L203.72 173.40L204.20 172.43L204.69 171.41L205.17 170.34L205.65 169.23L206.14 168.09L206.62 166.92L207.11 165.75L207.59 164.57L208.07 163.40L208.56 162.25L209.04 161.14L209.52 160.08L210.01 159.07L210.49 158.15L210.97 157.30L211.46 156.56L211.94 155.92L212.42 155.40L212.91 155.01L213.39 154.75L213.88 154.61L214.36 154.62L214.84 154.76L215.33 155.03L215.81 155.44L216.29 155.97L216.78 156.61L217.26 157.36L217.74 158.21L218.23 159.14L218.71 160.15L219.20 161.22L219.68 162.33L220.16 163.48L220.65 164.65L221.13 165.83L221.61 167.01L222.10 168.17L222.58 169.31L223.06 170.42L223.55 171.48L224.03 172.50L224.52 173.47L225.00 174.39L225.48 175.24L225.97 176.04L226.45 176.77L226.93 177.44L227.42 178.06L227.90 178.62L228.38 179.12L228.87 179.57L229.35 179.97L229.83 180.32L230.32 180.63L230.80 180.90L231.29 181.14L231.77 181.34L232.25 181.52L232.74 181.67L233.22 181.80L233.70 181.90L234.19 181.99L234.67 182.07L235.15 182.13L235.64 182.18L236.12 182.23L236.61 182.26L237.09 182.29L237.57 182.31L238.06 182.33L238.54 182.35L239.02 182.36L239.51 182.37L239.99 182.38L240.47 182.38L240.96 182.39L241.44 182.39L241.93 182.39L242.41 182.39L242.89 182.40L243.38 182.40L255.47 182.40L255.95 182.40L256.43 182.39L256.92 182.39L257.40 182.39L257.88 182.39L258.37 182.38L258.85 182.38L259.33 182.37L259.82 182.37L260.30 182.36L260.79 182.35L261.27 182.34L261.75 182.32L262.24 182.30L262.72 182.28L263.20 182.25L263.69 182.21L264.17 182.17L264.65 182.13L265.14 182.07L265.62 182.01L266.11 181.93L266.59 181.84L267.07 181.74L267.56 181.63L268.04 181.50L268.52 181.35L269.01 181.19L269.49 181.00L269.97 180.80L270.46 180.57L270.94 180.33L271.43 180.06L271.91 179.77L272.39 179.46L272.88 179.12L273.36 178.77L273.84 178.40L274.33 178.02L274.81 177.61L275.29 177.20L275.78 176.78L276.26 176.36L276.74 175.94L277.23 175.52L277.71 175.10L278.20 174.71L278.68 174.33L279.16 173.97L279.65 173.64L280.13 173.34L280.61 173.08L281.10 172.85L281.58 172.67L282.06 172.53L282.55 172.44L283.03 172.40L283.52 172.41L284.00 172.47L284.48 172.57L284.97 172.72L285.45 172.92L285.93 173.15L286.42 173.43L286.90 173.74L287.38 174.08L287.87 174.44L288.35 174.83L288.84 175.23L289.32 175.64L289.80 176.06L290.29 176.49L290.77 176.91L291.25 177.33L291.74 177.74L292.22 178.13L292.70 178.52L293.19 178.88L293.67 179.23L294.15 179.55L294.64 179.86L295.12 180.14L295.61 180.40L296.09 180.64L296.57 180.86L297.06 181.06L297.54 181.24L298.02 181.40L298.51 181.54L298.99 181.67L299.47 181.78L299.96 181.87L300.44 181.96L300.93 182.03L301.41 182.09L301.89 182.14L302.38 182.19L302.86 182.23L303.34 182.26L303.83 182.28L304.31 182.31L304.79 182.32L305.28 182.34L305.76 182.35L306.25 182.36L306.73 182.37L307.21 182.38L307.70 182.38L308.18 182.39L308.66 182.39L309.15 182.39L309.63 182.39L310.11 182.39L310.60 182.40L327.04 182.40L327.52 182.40L328.01 182.39L328.49 182.39L328.97 182.39L329.46 182.39L329.94 182.38L330.43 182.38L330.91 182.38L331.39 182.37L331.88 182.36L332.36 182.35L332.84 182.34L333.33 182.33L333.81 182.32L334.29 182.30L334.78 182.28L335.26 182.26L335.75 182.23L336.23 182.20L336.71 182.16L337.20 182.12L337.68 182.08L338.16 182.03L338.65 181.97L339.13 181.91L339.61 181.84L340.10 181.77L340.58 181.69L341.06 181.60L341.55 181.51L342.03 181.41L342.52 181.30L343.00 181.19L343.48 181.07L343.97 180.95L344.45 180.83L344.93 180.70L345.42 180.57L345.90 180.45L346.38 180.32L346.87 180.20L347.35 180.08L347.84 179.97L348.32 179.86L348.80 179.76L349.29 179.67L349.77 179.59L350.25 179.53L350.74 179.48L351.22 179.44L351.70 179.41L352.19 179.40L352.67 179.40L353.16 179.42L353.64 179.46L354.12 179.50L354.61 179.56L355.09 179.63L355.57 179.72L356.06 179.81L356.54 179.91L357.02 180.03L357.51 180.14L357.99 180.26L358.47 180.39L358.96 180.51L359.44 180.64L359.93 180.77L360.41 180.89L360.89 181.02L361.38 181.13L361.86 181.25L362.34 181.36L362.83 181.46L363.31 181.56L363.79 181.65L364.28 181.73L364.76 181.81L365.25 181.88L365.73 181.95L366.21 182.00L366.70 182.06L367.18 182.10L367.66 182.15L368.15 182.18L368.63 182.22L369.11 182.24L369.60 182.27L370.08 182.29L370.57 182.31L371.05 182.32L371.53 182.34L372.02 182.35L372.50 182.36L372.98 182.37L373.47 182.37L373.95 182.38L374.43 182.38L374.92 182.39L375.40 182.39L375.88 182.39L376.37 182.39L376.85 182.39L377.34 182.40L377.82 182.40L490.50 182.40" fill="none" stroke="#000" stroke-width="1.30" stroke-linejoin="round"/>
<path d="M165.73 182.40L165.73 182.40L187.51 182.40L187.99 182.40L188.48 182.39L188.96 182.39L189.45 182.39L189.93 182.39L190.41 182.38L190.90 182.38L191.38 182.37L191.87 182.37L192.35 182.36L192.83 182.35L193.32 182.34L193.80 182.33L194.29 182.31L194.77 182.29L195.25 182.26L195.74 182.24L196.22 182.20L196.71 182.16L197.19 182.12L197.67 182.07L198.16 182.01L198.64 181.94L199.13 181.86L199.61 181.78L200.09 181.68L200.58 181.57L201.06 181.46L201.55 181.32L202.03 181.18L202.51 181.03L203.00 180.86L203.48 180.68L203.97 180.49L204.45 180.29L204.93 180.08L205.42 179.86L205.90 179.63L206.39 179.40L206.87 179.16L207.35 178.92L207.84 178.69L208.32 178.45L208.81 178.22L209.29 178.00L209.77 177.80L210.26 177.60L210.74 177.42L211.23 177.26L211.71 177.12L212.19 177.01L212.68 176.92L213.16 176.85L213.65 176.81L214.13 176.80L214.61 176.82L215.10 176.86L215.58 176.93L216.07 177.02L216.55 177.14L217.03 177.28L217.52 177.45L218.00 177.63L218.49 177.82L218.97 178.03L219.45 178.25L219.94 178.48L220.42 178.72L220.91 178.95L221.39 179.19L221.88 179.43L222.36 179.66L222.84 179.88L223.33 180.10L223.81 180.31L224.30 180.51L224.78 180.70L225.26 180.88L225.75 181.05L226.23 181.20L226.72 181.34L227.20 181.47L227.68 181.59L228.17 181.69L228.65 181.79L229.14 181.88L229.62 181.95L230.10 182.02L230.59 182.07L231.07 182.13L231.56 182.17L232.04 182.21L232.52 182.24L233.01 182.27L233.49 182.29L233.98 182.31L234.46 182.33L234.94 182.34L235.43 182.35L235.91 182.36L236.40 182.37L236.88 182.38L237.36 182.38L237.85 182.38L238.33 182.39L238.82 182.39L239.30 182.39L239.78 182.39L240.27 182.40L240.75 182.40L260.60 182.40L261.08 182.40L261.56 182.39L262.05 182.39L262.53 182.39L263.02 182.39L263.50 182.39L263.98 182.38L264.47 182.38L264.95 182.38L265.44 182.37L265.92 182.36L266.40 182.36L266.89 182.35L267.37 182.34L267.86 182.33L268.34 182.32L268.82 182.31L269.31 182.29L269.79 182.28L270.28 182.26L270.76 182.24L271.24 182.22L271.73 182.20L272.21 182.17L272.70 182.15L273.18 182.12L273.66 182.09L274.15 182.06L274.63 182.03L275.12 182.00L275.60 181.96L276.08 181.93L276.57 181.90L277.05 181.86L277.54 181.83L278.02 181.80L278.50 181.76L278.99 181.74L279.47 181.71L279.96 181.68L280.44 181.66L280.92 181.64L281.41 181.63L281.89 181.61L282.38 181.61L282.86 181.60L283.34 181.60L283.83 181.60L284.31 181.61L284.80 181.62L285.28 181.64L285.76 181.65L286.25 181.67L286.73 181.70L287.22 181.72L287.70 181.75L288.18 181.78L288.67 181.82L289.15 181.85L289.64 181.88L290.12 181.92L290.60 181.95L291.09 181.98L291.57 182.02L292.06 182.05L292.54 182.08L293.02 182.11L293.51 182.14L293.99 182.16L294.48 182.19L294.96 182.21L295.44 182.23L295.93 182.25L296.41 182.27L296.90 182.29L297.38 182.30L297.86 182.32L298.35 182.33L298.83 182.34L299.32 182.35L299.80 182.36L300.28 182.36L300.77 182.37L301.25 182.37L301.74 182.38L302.22 182.38L302.70 182.39L303.19 182.39L303.67 182.39L304.16 182.39L304.64 182.39L305.12 182.39L305.61 182.40L306.09 182.40L331.26 182.40L331.75 182.40L332.23 182.39L332.71 182.39L333.20 182.39L333.68 182.39L334.17 182.39L334.65 182.39L335.13 182.38L335.62 182.38L336.10 182.38L336.59 182.37L337.07 182.37L337.55 182.36L338.04 182.36L338.52 182.35L339.01 182.35L339.49 182.34L339.97 182.33L340.46 182.32L340.94 182.31L341.43 182.30L341.91 182.29L342.39 182.27L342.88 182.26L343.36 182.25L343.85 182.23L344.33 182.22L344.81 182.21L345.30 182.19L345.78 182.18L346.27 182.16L346.75 182.15L347.23 182.13L347.72 182.12L348.20 182.11L348.69 182.09L349.17 182.08L349.65 182.07L350.14 182.07L350.62 182.06L351.11 182.06L351.59 182.05L352.07 182.05L352.56 182.05L353.04 182.05L353.53 182.06L354.01 182.06L354.49 182.07L354.98 182.08L355.46 182.08L355.95 182.10L356.43 182.11L356.91 182.12L357.40 182.13L357.88 182.15L358.37 182.16L358.85 182.18L359.33 182.19L359.82 182.21L360.30 182.22L360.79 182.24L361.27 182.25L361.75 182.26L362.24 182.28L362.72 182.29L363.21 182.30L363.69 182.31L364.17 182.32L364.66 182.33L365.14 182.34L365.63 182.35L366.11 182.35L366.59 182.36L367.08 182.36L367.56 182.37L368.05 182.37L368.53 182.38L369.01 182.38L369.50 182.38L369.98 182.39L370.47 182.39L370.95 182.39L371.43 182.39L371.92 182.39L372.40 182.39L372.89 182.40L373.37 182.40L490.50 182.40L490.50 182.40Z" fill="#A8002B"/>
<path d="M165.73 182.40L187.51 182.40L187.99 182.40L188.48 182.39L188.96 182.39L189.45 182.39L189.93 182.39L190.41 182.38L190.90 182.38L191.38 182.37L191.87 182.37L192.35 182.36L192.83 182.35L193.32 182.34L193.80 182.33L194.29 182.31L194.77 182.29L195.25 182.26L195.74 182.24L196.22 182.20L196.71 182.16L197.19 182.12L197.67 182.07L198.16 182.01L198.64 181.94L199.13 181.86L199.61 181.78L200.09 181.68L200.58 181.57L201.06 181.46L201.55 181.32L202.03 181.18L202.51 181.03L203.00 180.86L203.48 180.68L203.97 180.49L204.45 180.29L204.93 180.08L205.42 179.86L205.90 179.63L206.39 179.40L206.87 179.16L207.35 178.92L207.84 178.69L208.32 178.45L208.81 178.22L209.29 178.00L209.77 177.80L210.26 177.60L210.74 177.42L211.23 177.26L211.71 177.12L212.19 177.01L212.68 176.92L213.16 176.85L213.65 176.81L214.13 176.80L214.61 176.82L215.10 176.86L215.58 176.93L216.07 177.02L216.55 177.14L217.03 177.28L217.52 177.45L218.00 177.63L218.49 177.82L218.97 178.03L219.45 178.25L219.94 178.48L220.42 178.72L220.91 178.95L221.39 179.19L221.88 179.43L222.36 179.66L222.84 179.88L223.33 180.10L223.81 180.31L224.30 180.51L224.78 180.70L225.26 180.88L225.75 181.05L226.23 181.20L226.72 181.34L227.20 181.47L227.68 181.59L228.17 181.69L228.65 181.79L229.14 181.88L229.62 181.95L230.10 182.02L230.59 182.07L231.07 182.13L231.56 182.17L232.04 182.21L232.52 182.24L233.01 182.27L233.49 182.29L233.98 182.31L234.46 182.33L234.94 182.34L235.43 182.35L235.91 182.36L236.40 182.37L236.88 182.38L237.36 182.38L237.85 182.38L238.33 182.39L238.82 182.39L239.30 182.39L239.78 182.39L240.27 182.40L240.75 182.40L260.60 182.40L261.08 182.40L261.56 182.39L262.05 182.39L262.53 182.39L263.02 182.39L263.50 182.39L263.98 182.38L264.47 182.38L264.95 182.38L265.44 182.37L265.92 182.36L266.40 182.36L266.89 182.35L267.37 182.34L267.86 182.33L268.34 182.32L268.82 182.31L269.31 182.29L269.79 182.28L270.28 182.26L270.76 182.24L271.24 182.22L271.73 182.20L272.21 182.17L272.70 182.15L273.18 182.12L273.66 182.09L274.15 182.06L274.63 182.03L275.12 182.00L275.60 181.96L276.08 181.93L276.57 181.90L277.05 181.86L277.54 181.83L278.02 181.80L278.50 181.76L278.99 181.74L279.47 181.71L279.96 181.68L280.44 181.66L280.92 181.64L281.41 181.63L281.89 181.61L282.38 181.61L282.86 181.60L283.34 181.60L283.83 181.60L284.31 181.61L284.80 181.62L285.28 181.64L285.76 181.65L286.25 181.67L286.73 181.70L287.22 181.72L287.70 181.75L288.18 181.78L288.67 181.82L289.15 181.85L289.64 181.88L290.12 181.92L290.60 181.95L291.09 181.98L291.57 182.02L292.06 182.05L292.54 182.08L293.02 182.11L293.51 182.14L293.99 182.16L294.48 182.19L294.96 182.21L295.44 182.23L295.93 182.25L296.41 182.27L296.90 182.29L297.38 182.30L297.86 182.32L298.35 182.33L298.83 182.34L299.32 182.35L299.80 182.36L300.28 182.36L300.77 182.37L301.25 182.37L301.74 182.38L302.22 182.38L302.70 182.39L303.19 182.39L303.67 182.39L304.16 182.39L304.64 182.39L305.12 182.39L305.61 182.40L306.09 182.40L331.26 182.40L331.75 182.40L332.23 182.39L332.71 182.39L333.20 182.39L333.68 182.39L334.17 182.39L334.65 182.39L335.13 182.38L335.62 182.38L336.10 182.38L336.59 182.37L337.07 182.37L337.55 182.36L338.04 182.36L338.52 182.35L339.01 182.35L339.49 182.34L339.97 182.33L340.46 182.32L340.94 182.31L341.43 182.30L341.91 182.29L342.39 182.27L342.88 182.26L343.36 182.25L343.85 182.23L344.33 182.22L344.81 182.21L345.30 182.19L345.78 182.18L346.27 182.16L346.75 182.15L347.23 182.13L347.72 182.12L348.20 182.11L348.69 182.09L349.17 182.08L349.65 182.07L350.14 182.07L350.62 182.06L351.11 182.06L351.59 182.05L352.07 182.05L352.56 182.05L353.04 182.05L353.53 182.06L354.01 182.06L354.49 182.07L354.98 182.08L355.46 182.08L355.95 182.10L356.43 182.11L356.91 182.12L357.40 182.13L357.88 182.15L358.37 182.16L358.85 182.18L359.33 182.19L359.82 182.21L360.30 182.22L360.79 182.24L361.27 182.25L361.75 182.26L362.24 182.28L362.72 182.29L363.21 182.30L363.69 182.31L364.17 182.32L364.66 182.33L365.14 182.34L365.63 182.35L366.11 182.35L366.59 182.36L367.08 182.36L367.56 182.37L368.05 182.37L368.53 182.38L369.01 182.38L369.50 182.38L369.98 182.39L370.47 182.39L370.95 182.39L371.43 182.39L371.92 182.39L372.40 182.39L372.89 182.40L373.37 182.40L490.50 182.40" fill="none" stroke="#000" stroke-width="1.30" stroke-linejoin="round"/>
<path d="M165.73 182.40L165.73 182.40L490.50 182.40L490.50 182.40Z" fill="#2F4D86"/>
<path d="M165.73 182.40L490.50 182.40" fill="none" stroke="#000" stroke-width="1.30" stroke-linejoin="round"/>
<path d="M123.92 220.90L123.92 220.24L124.41 220.09L124.89 219.90L125.38 219.68L125.86 219.41L126.34 219.10L126.83 218.73L127.31 218.29L127.79 217.79L128.28 217.20L128.76 216.53L129.24 215.77L129.73 214.89L130.21 213.90L130.70 212.79L131.18 211.55L131.66 210.17L132.15 208.65L132.63 206.98L133.11 205.16L133.60 203.19L134.08 201.08L134.56 198.81L135.05 196.41L135.53 193.88L136.01 191.23L136.50 188.48L136.98 185.65L137.47 182.77L137.95 179.84L138.43 176.91L138.92 174.00L139.40 171.14L139.88 168.37L140.37 165.71L140.85 163.20L141.33 160.87L141.82 158.75L142.30 156.87L142.79 155.26L143.27 153.93L143.75 152.92L144.24 152.22L144.72 151.86L145.20 151.83L145.69 152.14L146.17 152.78L146.65 153.75L147.14 155.03L147.62 156.60L148.10 158.44L148.59 160.52L149.07 162.81L149.56 165.30L150.04 167.94L150.52 170.69L151.01 173.54L151.49 176.45L151.97 179.38L152.46 182.30L152.94 185.20L153.42 188.04L153.91 190.80L154.39 193.46L154.88 196.01L155.36 198.44L155.84 200.72L156.33 202.87L156.81 204.86L157.29 206.70L157.78 208.40L158.26 209.94L158.74 211.34L159.23 212.60L159.71 213.74L160.20 214.74L160.68 215.63L161.16 216.42L161.65 217.10L162.13 217.70L162.61 218.22L163.10 218.66L163.58 219.04L164.06 219.36L164.55 219.64L165.03 219.87L165.51 220.06L166.00 220.22L166.48 220.35L166.97 220.46L167.45 220.55L167.93 220.62L168.42 220.68L168.90 220.73L169.38 220.76L169.87 220.79L170.35 220.82L170.83 220.84L171.32 220.85L171.80 220.86L172.29 220.87L172.77 220.88L173.25 220.88L173.74 220.89L174.22 220.89L174.70 220.89L175.19 220.90L175.67 220.90L185.83 220.90L186.31 220.90L186.79 220.89L187.28 220.89L187.76 220.89L188.24 220.89L188.73 220.88L189.21 220.88L189.70 220.87L190.18 220.86L190.66 220.85L191.15 220.84L191.63 220.83L192.11 220.81L192.60 220.79L193.08 220.76L193.56 220.72L194.05 220.68L194.53 220.64L195.01 220.58L195.50 220.51L195.98 220.43L196.47 220.34L196.95 220.23L197.43 220.11L197.92 219.97L198.40 219.80L198.88 219.62L199.37 219.41L199.85 219.17L200.33 218.91L200.82 218.61L201.30 218.29L201.79 217.94L202.27 217.55L202.75 217.13L203.24 216.69L203.72 216.21L204.20 215.70L204.69 215.17L205.17 214.61L205.65 214.03L206.14 213.43L206.62 212.83L207.11 212.21L207.59 211.60L208.07 210.99L208.56 210.39L209.04 209.81L209.52 209.26L210.01 208.73L210.49 208.25L210.97 207.81L211.46 207.42L211.94 207.09L212.42 206.82L212.91 206.61L213.39 206.48L213.88 206.41L214.36 206.41L214.84 206.48L215.33 206.63L215.81 206.84L216.29 207.11L216.78 207.45L217.26 207.84L217.74 208.28L218.23 208.77L218.71 209.30L219.20 209.85L219.68 210.43L220.16 211.03L220.65 211.64L221.13 212.26L221.61 212.87L222.10 213.48L222.58 214.07L223.06 214.65L223.55 215.21L224.03 215.74L224.52 216.24L225.00 216.72L225.48 217.17L225.97 217.58L226.45 217.96L226.93 218.32L227.42 218.64L227.90 218.93L228.38 219.19L228.87 219.42L229.35 219.63L229.83 219.82L230.32 219.98L230.80 220.12L231.29 220.24L231.77 220.35L232.25 220.44L232.74 220.52L233.22 220.58L233.70 220.64L234.19 220.69L234.67 220.73L235.15 220.76L235.64 220.79L236.12 220.81L236.61 220.83L237.09 220.84L237.57 220.85L238.06 220.86L238.54 220.87L239.02 220.88L239.51 220.88L239.99 220.89L240.47 220.89L240.96 220.89L241.44 220.89L241.93 220.90L242.41 220.90L259.82 220.90L260.30 220.90L260.79 220.89L261.27 220.89L261.75 220.89L262.24 220.89L262.72 220.89L263.20 220.88L263.69 220.88L264.17 220.88L264.65 220.87L265.14 220.87L265.62 220.86L266.11 220.85L266.59 220.84L267.07 220.83L267.56 220.82L268.04 220.81L268.52 220.80L269.01 220.78L269.49 220.76L269.97 220.74L270.46 220.72L270.94 220.69L271.43 220.67L271.91 220.64L272.39 220.61L272.88 220.57L273.36 220.54L273.84 220.50L274.33 220.46L274.81 220.42L275.29 220.38L275.78 220.34L276.26 220.30L276.74 220.25L277.23 220.21L277.71 220.17L278.20 220.13L278.68 220.09L279.16 220.06L279.65 220.02L280.13 219.99L280.61 219.97L281.10 219.95L281.58 219.93L282.06 219.91L282.55 219.90L283.03 219.90L283.52 219.90L284.00 219.91L284.48 219.92L284.97 219.93L285.45 219.95L285.93 219.98L286.42 220.00L286.90 220.03L287.38 220.07L287.87 220.10L288.35 220.14L288.84 220.18L289.32 220.22L289.80 220.27L290.29 220.31L290.77 220.35L291.25 220.39L291.74 220.43L292.22 220.47L292.70 220.51L293.19 220.55L293.67 220.58L294.15 220.62L294.64 220.65L295.12 220.67L295.61 220.70L296.09 220.72L296.57 220.75L297.06 220.77L297.54 220.78L298.02 220.80L298.51 220.81L298.99 220.83L299.47 220.84L299.96 220.85L300.44 220.86L300.93 220.86L301.41 220.87L301.89 220.87L302.38 220.88L302.86 220.88L303.34 220.89L303.83 220.89L304.31 220.89L304.79 220.89L305.28 220.89L305.76 220.90L306.25 220.90L490.50 220.90L490.50 220.90Z" fill="#fff"/>
<path d="M123.92 220.24L124.41 220.09L124.89 219.90L125.38 219.68L125.86 219.41L126.34 219.10L126.83 218.73L127.31 218.29L127.79 217.79L128.28 217.20L128.76 216.53L129.24 215.77L129.73 214.89L130.21 213.90L130.70 212.79L131.18 211.55L131.66 210.17L132.15 208.65L132.63 206.98L133.11 205.16L133.60 203.19L134.08 201.08L134.56 198.81L135.05 196.41L135.53 193.88L136.01 191.23L136.50 188.48L136.98 185.65L137.47 182.77L137.95 179.84L138.43 176.91L138.92 174.00L139.40 171.14L139.88 168.37L140.37 165.71L140.85 163.20L141.33 160.87L141.82 158.75L142.30 156.87L142.79 155.26L143.27 153.93L143.75 152.92L144.24 152.22L144.72 151.86L145.20 151.83L145.69 152.14L146.17 152.78L146.65 153.75L147.14 155.03L147.62 156.60L148.10 158.44L148.59 160.52L149.07 162.81L149.56 165.30L150.04 167.94L150.52 170.69L151.01 173.54L151.49 176.45L151.97 179.38L152.46 182.30L152.94 185.20L153.42 188.04L153.91 190.80L154.39 193.46L154.88 196.01L155.36 198.44L155.84 200.72L156.33 202.87L156.81 204.86L157.29 206.70L157.78 208.40L158.26 209.94L158.74 211.34L159.23 212.60L159.71 213.74L160.20 214.74L160.68 215.63L161.16 216.42L161.65 217.10L162.13 217.70L162.61 218.22L163.10 218.66L163.58 219.04L164.06 219.36L164.55 219.64L165.03 219.87L165.51 220.06L166.00 220.22L166.48 220.35L166.97 220.46L167.45 220.55L167.93 220.62L168.42 220.68L168.90 220.73L169.38 220.76L169.87 220.79L170.35 220.82L170.83 220.84L171.32 220.85L171.80 220.86L172.29 220.87L172.77 220.88L173.25 220.88L173.74 220.89L174.22 220.89L174.70 220.89L175.19 220.90L175.67 220.90L185.83 220.90L186.31 220.90L186.79 220.89L187.28 220.89L187.76 220.89L188.24 220.89L188.73 220.88L189.21 220.88L189.70 220.87L190.18 220.86L190.66 220.85L191.15 220.84L191.63 220.83L192.11 220.81L192.60 220.79L193.08 220.76L193.56 220.72L194.05 220.68L194.53 220.64L195.01 220.58L195.50 220.51L195.98 220.43L196.47 220.34L196.95 220.23L197.43 220.11L197.92 219.97L198.40 219.80L198.88 219.62L199.37 219.41L199.85 219.17L200.33 218.91L200.82 218.61L201.30 218.29L201.79 217.94L202.27 217.55L202.75 217.13L203.24 216.69L203.72 216.21L204.20 215.70L204.69 215.17L205.17 214.61L205.65 214.03L206.14 213.43L206.62 212.83L207.11 212.21L207.59 211.60L208.07 210.99L208.56 210.39L209.04 209.81L209.52 209.26L210.01 208.73L210.49 208.25L210.97 207.81L211.46 207.42L211.94 207.09L212.42 206.82L212.91 206.61L213.39 206.48L213.88 206.41L214.36 206.41L214.84 206.48L215.33 206.63L215.81 206.84L216.29 207.11L216.78 207.45L217.26 207.84L217.74 208.28L218.23 208.77L218.71 209.30L219.20 209.85L219.68 210.43L220.16 211.03L220.65 211.64L221.13 212.26L221.61 212.87L222.10 213.48L222.58 214.07L223.06 214.65L223.55 215.21L224.03 215.74L224.52 216.24L225.00 216.72L225.48 217.17L225.97 217.58L226.45 217.96L226.93 218.32L227.42 218.64L227.90 218.93L228.38 219.19L228.87 219.42L229.35 219.63L229.83 219.82L230.32 219.98L230.80 220.12L231.29 220.24L231.77 220.35L232.25 220.44L232.74 220.52L233.22 220.58L233.70 220.64L234.19 220.69L234.67 220.73L235.15 220.76L235.64 220.79L236.12 220.81L236.61 220.83L237.09 220.84L237.57 220.85L238.06 220.86L238.54 220.87L239.02 220.88L239.51 220.88L239.99 220.89L240.47 220.89L240.96 220.89L241.44 220.89L241.93 220.90L242.41 220.90L259.82 220.90L260.30 220.90L260.79 220.89L261.27 220.89L261.75 220.89L262.24 220.89L262.72 220.89L263.20 220.88L263.69 220.88L264.17 220.88L264.65 220.87L265.14 220.87L265.62 220.86L266.11 220.85L266.59 220.84L267.07 220.83L267.56 220.82L268.04 220.81L268.52 220.80L269.01 220.78L269.49 220.76L269.97 220.74L270.46 220.72L270.94 220.69L271.43 220.67L271.91 220.64L272.39 220.61L272.88 220.57L273.36 220.54L273.84 220.50L274.33 220.46L274.81 220.42L275.29 220.38L275.78 220.34L276.26 220.30L276.74 220.25L277.23 220.21L277.71 220.17L278.20 220.13L278.68 220.09L279.16 220.06L279.65 220.02L280.13 219.99L280.61 219.97L281.10 219.95L281.58 219.93L282.06 219.91L282.55 219.90L283.03 219.90L283.52 219.90L284.00 219.91L284.48 219.92L284.97 219.93L285.45 219.95L285.93 219.98L286.42 220.00L286.90 220.03L287.38 220.07L287.87 220.10L288.35 220.14L288.84 220.18L289.32 220.22L289.80 220.27L290.29 220.31L290.77 220.35L291.25 220.39L291.74 220.43L292.22 220.47L292.70 220.51L293.19 220.55L293.67 220.58L294.15 220.62L294.64 220.65L295.12 220.67L295.61 220.70L296.09 220.72L296.57 220.75L297.06 220.77L297.54 220.78L298.02 220.80L298.51 220.81L298.99 220.83L299.47 220.84L299.96 220.85L300.44 220.86L300.93 220.86L301.41 220.87L301.89 220.87L302.38 220.88L302.86 220.88L303.34 220.89L303.83 220.89L304.31 220.89L304.79 220.89L305.28 220.89L305.76 220.90L306.25 220.90L490.50 220.90" fill="none" stroke="#000" stroke-width="1.30" stroke-linejoin="round"/>
<path d="M165.73 220.90L165.73 220.90L190.90 220.90L191.38 220.90L191.87 220.89L192.35 220.89L192.83 220.89L193.32 220.89L193.80 220.89L194.29 220.88L194.77 220.88L195.25 220.88L195.74 220.87L196.22 220.86L196.71 220.86L197.19 220.85L197.67 220.84L198.16 220.83L198.64 220.82L199.13 220.80L199.61 220.79L200.09 220.77L200.58 220.75L201.06 220.73L201.55 220.71L202.03 220.68L202.51 220.65L203.00 220.62L203.48 220.59L203.97 220.56L204.45 220.52L204.93 220.49L205.42 220.45L205.90 220.41L206.39 220.36L206.87 220.32L207.35 220.28L207.84 220.24L208.32 220.19L208.81 220.15L209.29 220.12L209.77 220.08L210.26 220.04L210.74 220.01L211.23 219.98L211.71 219.96L212.19 219.94L212.68 219.92L213.16 219.91L213.65 219.90L214.13 219.90L214.61 219.90L215.10 219.91L215.58 219.92L216.07 219.94L216.55 219.96L217.03 219.99L217.52 220.02L218.00 220.05L218.49 220.08L218.97 220.12L219.45 220.16L219.94 220.20L220.42 220.24L220.91 220.28L221.39 220.33L221.88 220.37L222.36 220.41L222.84 220.45L223.33 220.49L223.81 220.53L224.30 220.56L224.78 220.60L225.26 220.63L225.75 220.66L226.23 220.69L226.72 220.71L227.20 220.73L227.68 220.76L228.17 220.77L228.65 220.79L229.14 220.81L229.62 220.82L230.10 220.83L230.59 220.84L231.07 220.85L231.56 220.86L232.04 220.87L232.52 220.87L233.01 220.88L233.49 220.88L233.98 220.88L234.46 220.89L234.94 220.89L235.43 220.89L235.91 220.89L236.40 220.89L236.88 220.90L237.36 220.90L261.56 220.90L262.05 220.90L262.53 220.89L263.02 220.89L263.50 220.89L263.98 220.89L264.47 220.89L264.95 220.88L265.44 220.88L265.92 220.88L266.40 220.87L266.89 220.87L267.37 220.86L267.86 220.86L268.34 220.85L268.82 220.84L269.31 220.83L269.79 220.82L270.28 220.81L270.76 220.80L271.24 220.79L271.73 220.77L272.21 220.76L272.70 220.74L273.18 220.73L273.66 220.71L274.15 220.69L274.63 220.67L275.12 220.65L275.60 220.63L276.08 220.61L276.57 220.58L277.05 220.56L277.54 220.54L278.02 220.52L278.50 220.50L278.99 220.48L279.47 220.47L279.96 220.45L280.44 220.44L280.92 220.43L281.41 220.42L281.89 220.41L282.38 220.40L282.86 220.40L283.34 220.40L283.83 220.40L284.31 220.41L284.80 220.41L285.28 220.42L285.76 220.43L286.25 220.45L286.73 220.46L287.22 220.48L287.70 220.50L288.18 220.51L288.67 220.53L289.15 220.55L289.64 220.58L290.12 220.60L290.60 220.62L291.09 220.64L291.57 220.66L292.06 220.68L292.54 220.70L293.02 220.72L293.51 220.74L293.99 220.75L294.48 220.77L294.96 220.78L295.44 220.80L295.93 220.81L296.41 220.82L296.90 220.83L297.38 220.84L297.86 220.85L298.35 220.85L298.83 220.86L299.32 220.87L299.80 220.87L300.28 220.88L300.77 220.88L301.25 220.88L301.74 220.89L302.22 220.89L302.70 220.89L303.19 220.89L303.67 220.89L304.16 220.89L304.64 220.90L305.12 220.90L490.50 220.90L490.50 220.90Z" fill="#A8002B"/>
<path d="M165.73 220.90L190.90 220.90L191.38 220.90L191.87 220.89L192.35 220.89L192.83 220.89L193.32 220.89L193.80 220.89L194.29 220.88L194.77 220.88L195.25 220.88L195.74 220.87L196.22 220.86L196.71 220.86L197.19 220.85L197.67 220.84L198.16 220.83L198.64 220.82L199.13 220.80L199.61 220.79L200.09 220.77L200.58 220.75L201.06 220.73L201.55 220.71L202.03 220.68L202.51 220.65L203.00 220.62L203.48 220.59L203.97 220.56L204.45 220.52L204.93 220.49L205.42 220.45L205.90 220.41L206.39 220.36L206.87 220.32L207.35 220.28L207.84 220.24L208.32 220.19L208.81 220.15L209.29 220.12L209.77 220.08L210.26 220.04L210.74 220.01L211.23 219.98L211.71 219.96L212.19 219.94L212.68 219.92L213.16 219.91L213.65 219.90L214.13 219.90L214.61 219.90L215.10 219.91L215.58 219.92L216.07 219.94L216.55 219.96L217.03 219.99L217.52 220.02L218.00 220.05L218.49 220.08L218.97 220.12L219.45 220.16L219.94 220.20L220.42 220.24L220.91 220.28L221.39 220.33L221.88 220.37L222.36 220.41L222.84 220.45L223.33 220.49L223.81 220.53L224.30 220.56L224.78 220.60L225.26 220.63L225.75 220.66L226.23 220.69L226.72 220.71L227.20 220.73L227.68 220.76L228.17 220.77L228.65 220.79L229.14 220.81L229.62 220.82L230.10 220.83L230.59 220.84L231.07 220.85L231.56 220.86L232.04 220.87L232.52 220.87L233.01 220.88L233.49 220.88L233.98 220.88L234.46 220.89L234.94 220.89L235.43 220.89L235.91 220.89L236.40 220.89L236.88 220.90L237.36 220.90L261.56 220.90L262.05 220.90L262.53 220.89L263.02 220.89L263.50 220.89L263.98 220.89L264.47 220.89L264.95 220.88L265.44 220.88L265.92 220.88L266.40 220.87L266.89 220.87L267.37 220.86L267.86 220.86L268.34 220.85L268.82 220.84L269.31 220.83L269.79 220.82L270.28 220.81L270.76 220.80L271.24 220.79L271.73 220.77L272.21 220.76L272.70 220.74L273.18 220.73L273.66 220.71L274.15 220.69L274.63 220.67L275.12 220.65L275.60 220.63L276.08 220.61L276.57 220.58L277.05 220.56L277.54 220.54L278.02 220.52L278.50 220.50L278.99 220.48L279.47 220.47L279.96 220.45L280.44 220.44L280.92 220.43L281.41 220.42L281.89 220.41L282.38 220.40L282.86 220.40L283.34 220.40L283.83 220.40L284.31 220.41L284.80 220.41L285.28 220.42L285.76 220.43L286.25 220.45L286.73 220.46L287.22 220.48L287.70 220.50L288.18 220.51L288.67 220.53L289.15 220.55L289.64 220.58L290.12 220.60L290.60 220.62L291.09 220.64L291.57 220.66L292.06 220.68L292.54 220.70L293.02 220.72L293.51 220.74L293.99 220.75L294.48 220.77L294.96 220.78L295.44 220.80L295.93 220.81L296.41 220.82L296.90 220.83L297.38 220.84L297.86 220.85L298.35 220.85L298.83 220.86L299.32 220.87L299.80 220.87L300.28 220.88L300.77 220.88L301.25 220.88L301.74 220.89L302.22 220.89L302.70 220.89L303.19 220.89L303.67 220.89L304.16 220.89L304.64 220.90L305.12 220.90L490.50 220.90" fill="none" stroke="#000" stroke-width="1.30" stroke-linejoin="round"/>
<path d="M165.73 220.90L165.73 220.90L490.50 220.90L490.50 220.90Z" fill="#2F4D86"/>
<path d="M165.73 220.90L490.50 220.90" fill="none" stroke="#000" stroke-width="1.30" stroke-linejoin="round"/>
<line x1="91.9" y1="10" x2="91.9" y2="222.9" stroke="#000" stroke-width="1.8"/>
<line x1="91" y1="222.4" x2="509.2" y2="222.4" stroke="#000" stroke-width="1.5"/>
<text x="82.60" y="70.60" text-anchor="end">Type 3</text>
<line x1="87.0" y1="66.90" x2="92" y2="66.90" stroke="#000" stroke-width="1.40"/>
<text x="82.60" y="108.75" text-anchor="end">Type 2</text>
<line x1="87.0" y1="105.40" x2="92" y2="105.40" stroke="#000" stroke-width="1.40"/>
<text x="46.95" y="147.40">Type</text>
<path d="M79.90 139.00L79.90 146.90" stroke="#111" stroke-width="1.15" fill="none"/><path d="M79.70 139.55L77.55 140.70" stroke="#111" stroke-width="1.09" fill="none" stroke-linecap="round"/>
<line x1="87.0" y1="143.90" x2="92" y2="143.90" stroke="#000" stroke-width="1.40"/>
<text x="82.60" y="185.60" text-anchor="end">Low VWF</text>
<line x1="87.0" y1="182.40" x2="92" y2="182.40" stroke="#000" stroke-width="1.40"/>
<text x="83.15" y="224.20" text-anchor="end" textLength="41.2" lengthAdjust="spacingAndGlyphs">Normal</text>
<line x1="87.0" y1="220.90" x2="92" y2="220.90" stroke="#000" stroke-width="1.40"/>
<line x1="145.00" y1="222" x2="145.00" y2="226.80" stroke="#000" stroke-width="1.40"/>
<text x="145.00" y="241.85" text-anchor="middle">0</text>
<line x1="214.10" y1="222" x2="214.10" y2="226.80" stroke="#000" stroke-width="1.40"/>
<path d="M214.55 233.00L214.55 241.90" stroke="#111" stroke-width="1.20" fill="none"/><path d="M214.35 233.55L212.45 235.20" stroke="#111" stroke-width="1.14" fill="none" stroke-linecap="round"/>
<line x1="283.20" y1="222" x2="283.20" y2="226.80" stroke="#000" stroke-width="1.40"/>
<text x="283.20" y="241.85" text-anchor="middle">2</text>
<line x1="352.30" y1="222" x2="352.30" y2="226.80" stroke="#000" stroke-width="1.40"/>
<text x="352.30" y="241.85" text-anchor="middle">3</text>
<line x1="421.40" y1="222" x2="421.40" y2="226.80" stroke="#000" stroke-width="1.40"/>
<text x="421.40" y="241.85" text-anchor="middle">4</text>
<line x1="490.50" y1="222" x2="490.50" y2="226.80" stroke="#000" stroke-width="1.40"/>
<text x="490.50" y="241.85" text-anchor="middle">5</text>
<rect x="388" y="13" width="7" height="7" fill="#A8002B"/>
<rect x="388" y="25.2" width="7" height="7" fill="#2F4D86"/>
<path d="M403.35 11.95L403.35 19.55" stroke="#111" stroke-width="1.10" fill="none"/><path d="M403.15 12.50L401.25 13.40" stroke="#111" stroke-width="1.04" fill="none" stroke-linecap="round"/>
<text class="lg" x="409.25" y="19.8" textLength="95.00" lengthAdjust="spacingAndGlyphs">Pathogenic Variant</text>
<text class="lg" x="400.3" y="31.6">2</text>
<text class="lg" x="409.25" y="31.6" textLength="100.00" lengthAdjust="spacingAndGlyphs">Pathogenic Variants</text>
</svg>
<div class="b" style="left:0;top:1px;width:520px;height:1px;background:#727272"></div>
<div class="b" style="left:0;top:274px;width:520px;height:1px;background:#5e5e5e"></div>
<div class="b" style="left:1px;top:0;width:1px;height:276px;background:#787878"></div>
<div class="b" style="left:518px;top:0;width:1px;height:276px;background:#525252"></div>
<div class="b" style="left:0;top:0;width:520px;height:1px;background:#000"></div>
<div class="b" style="left:0;top:275px;width:520px;height:1px;background:#000"></div>
<div class="b" style="left:0;top:0;width:1px;height:276px;background:#000"></div>
<div class="b" style="left:519px;top:0;width:1px;height:276px;background:#000"></div>
</body></html>
